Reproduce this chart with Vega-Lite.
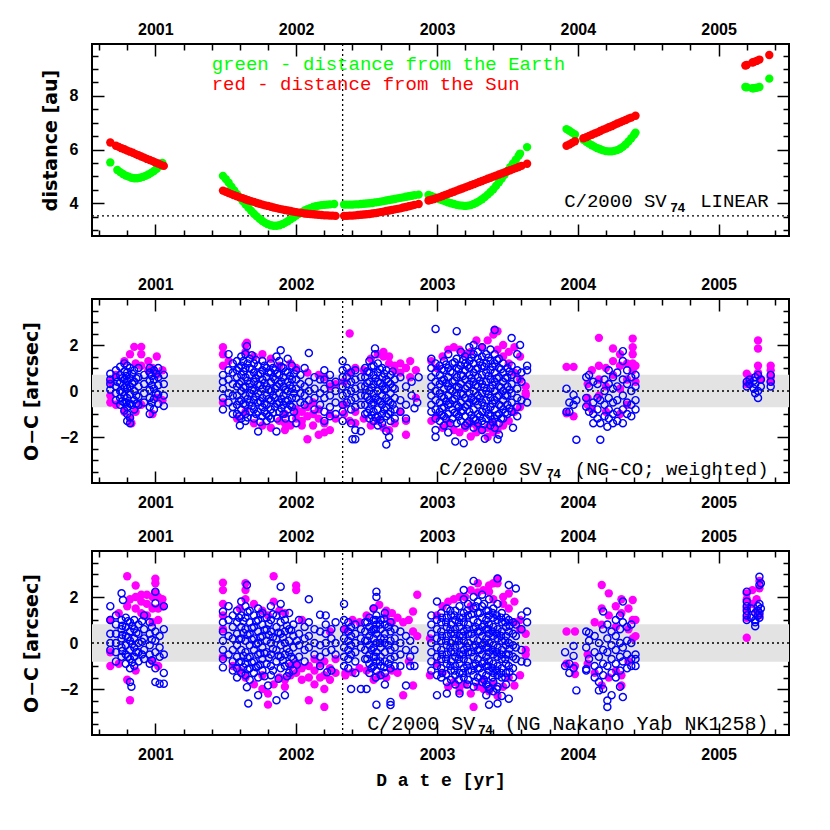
{
"$schema":"https://vega.github.io/schema/vega-lite/v6.json",
"background":"white",
"padding":{"left":21,"top":20,"right":10,"bottom":10},
"config":{"view":{"stroke":"black","strokeWidth":2},
"axis":{"labelFont":"Liberation Sans","labelFontWeight":"bold","labelFontSize":16,"labelColor":"black","titleFont":"DejaVu Sans","titleFontWeight":"bold","titleFontSize":19,"titleColor":"black","domain":false,"grid":false,"tickColor":"black","tickWidth":1.5,"zindex":1,"labelOverlap":false,"labelFlush":false}},
"datasets":{
"dg":[{"t":2000.68,"v":5.52},{"t":2000.73,"v":5.24},{"t":2000.75,"v":5.16},{"t":2000.77,"v":5.09},{"t":2000.79,"v":5.03},{"t":2000.81,"v":4.99},{"t":2000.83,"v":4.95},{"t":2000.85,"v":4.93},{"t":2000.87,"v":4.93},{"t":2000.89,"v":4.95},{"t":2000.91,"v":4.98},{"t":2000.93,"v":5.02},{"t":2000.95,"v":5.07},{"t":2000.97,"v":5.13},{"t":2000.99,"v":5.2},{"t":2001.01,"v":5.28},{"t":2001.03,"v":5.38},{"t":2001.05,"v":5.5},
{"t":2001.48,"v":5.02},{"t":2001.5,"v":4.9},{"t":2001.52,"v":4.77},{"t":2001.54,"v":4.62},{"t":2001.56,"v":4.48},{"t":2001.58,"v":4.34},{"t":2001.6,"v":4.21},{"t":2001.62,"v":4.08},{"t":2001.64,"v":3.96},{"t":2001.66,"v":3.84},{"t":2001.68,"v":3.72},{"t":2001.7,"v":3.61},{"t":2001.72,"v":3.51},{"t":2001.74,"v":3.42},{"t":2001.76,"v":3.34},{"t":2001.78,"v":3.27},{"t":2001.8,"v":3.22},{"t":2001.82,"v":3.18},{"t":2001.84,"v":3.16},{"t":2001.86,"v":3.16},{"t":2001.88,"v":3.18},{"t":2001.9,"v":3.22},{"t":2001.92,"v":3.27},{"t":2001.94,"v":3.33},{"t":2001.96,"v":3.4},{"t":2001.98,"v":3.47},{"t":2002,"v":3.54},{"t":2002.02,"v":3.61},{"t":2002.04,"v":3.67},{"t":2002.06,"v":3.73},{"t":2002.08,"v":3.78},{"t":2002.1,"v":3.82},{"t":2002.12,"v":3.86},{"t":2002.14,"v":3.89},{"t":2002.16,"v":3.91},{"t":2002.18,"v":3.93},{"t":2002.2,"v":3.94},{"t":2002.22,"v":3.95},{"t":2002.24,"v":3.96},{"t":2002.27,"v":3.97},
{"t":2002.34,"v":3.95},{"t":2002.36,"v":3.95},{"t":2002.38,"v":3.95},{"t":2002.4,"v":3.95},{"t":2002.42,"v":3.96},{"t":2002.44,"v":3.96},{"t":2002.46,"v":3.97},{"t":2002.48,"v":3.98},{"t":2002.5,"v":3.99},{"t":2002.52,"v":4},{"t":2002.54,"v":4.01},{"t":2002.56,"v":4.03},{"t":2002.58,"v":4.04},{"t":2002.6,"v":4.06},{"t":2002.62,"v":4.08},{"t":2002.64,"v":4.1},{"t":2002.66,"v":4.12},{"t":2002.68,"v":4.14},{"t":2002.7,"v":4.16},{"t":2002.72,"v":4.18},{"t":2002.74,"v":4.2},{"t":2002.76,"v":4.22},{"t":2002.78,"v":4.24},{"t":2002.8,"v":4.26},{"t":2002.82,"v":4.28},{"t":2002.84,"v":4.3},{"t":2002.87,"v":4.32},
{"t":2002.94,"v":4.31},{"t":2002.96,"v":4.27},{"t":2002.98,"v":4.23},{"t":2003,"v":4.19},{"t":2003.02,"v":4.15},{"t":2003.04,"v":4.11},{"t":2003.06,"v":4.07},{"t":2003.08,"v":4.03},{"t":2003.1,"v":4},{"t":2003.12,"v":3.97},{"t":2003.14,"v":3.94},{"t":2003.16,"v":3.92},{"t":2003.18,"v":3.91},{"t":2003.2,"v":3.9},{"t":2003.22,"v":3.91},{"t":2003.24,"v":3.93},{"t":2003.26,"v":3.97},{"t":2003.28,"v":4.02},{"t":2003.3,"v":4.08},{"t":2003.32,"v":4.15},{"t":2003.34,"v":4.23},{"t":2003.36,"v":4.32},{"t":2003.38,"v":4.42},{"t":2003.4,"v":4.52},{"t":2003.42,"v":4.65},{"t":2003.44,"v":4.78},{"t":2003.46,"v":4.92},{"t":2003.48,"v":5.06},{"t":2003.5,"v":5.2},{"t":2003.52,"v":5.34},{"t":2003.54,"v":5.48},{"t":2003.56,"v":5.62},{"t":2003.58,"v":5.77},{"t":2003.59,"v":5.85},{"t":2003.64,"v":6.09},
{"t":2003.92,"v":6.76},{"t":2003.94,"v":6.7},{"t":2003.96,"v":6.63},{"t":2003.98,"v":6.56},{"t":2004.04,"v":6.36},{"t":2004.06,"v":6.29},{"t":2004.08,"v":6.22},{"t":2004.1,"v":6.16},{"t":2004.12,"v":6.1},{"t":2004.14,"v":6.05},{"t":2004.16,"v":6.01},{"t":2004.18,"v":5.97},{"t":2004.2,"v":5.94},{"t":2004.22,"v":5.93},{"t":2004.24,"v":5.93},{"t":2004.26,"v":5.95},{"t":2004.28,"v":5.98},{"t":2004.3,"v":6.03},{"t":2004.32,"v":6.1},{"t":2004.34,"v":6.19},{"t":2004.36,"v":6.3},{"t":2004.38,"v":6.42},{"t":2004.4,"v":6.55},{"t":2004.41,"v":6.63},
{"t":2005.19,"v":8.33},{"t":2005.2,"v":8.32},{"t":2005.24,"v":8.28},{"t":2005.25,"v":8.28},{"t":2005.27,"v":8.3},{"t":2005.29,"v":8.33},{"t":2005.36,"v":8.64}],
"dr":[{"t":2000.68,"v":6.26},{"t":2000.72,"v":6.14},{"t":2000.74,"v":6.1},{"t":2000.76,"v":6.05},{"t":2000.78,"v":6.01},{"t":2000.8,"v":5.96},{"t":2000.82,"v":5.92},{"t":2000.84,"v":5.88},{"t":2000.86,"v":5.83},{"t":2000.88,"v":5.79},{"t":2000.9,"v":5.74},{"t":2000.92,"v":5.7},{"t":2000.94,"v":5.65},{"t":2000.96,"v":5.61},{"t":2000.98,"v":5.57},{"t":2001,"v":5.52},{"t":2001.02,"v":5.48},{"t":2001.04,"v":5.43},{"t":2001.06,"v":5.39},
{"t":2001.48,"v":4.47},{"t":2001.5,"v":4.43},{"t":2001.52,"v":4.38},{"t":2001.54,"v":4.34},{"t":2001.56,"v":4.3},{"t":2001.58,"v":4.26},{"t":2001.6,"v":4.22},{"t":2001.62,"v":4.19},{"t":2001.64,"v":4.15},{"t":2001.66,"v":4.11},{"t":2001.68,"v":4.08},{"t":2001.7,"v":4.05},{"t":2001.72,"v":4.01},{"t":2001.74,"v":3.98},{"t":2001.76,"v":3.95},{"t":2001.78,"v":3.92},{"t":2001.8,"v":3.9},{"t":2001.82,"v":3.87},{"t":2001.84,"v":3.84},{"t":2001.86,"v":3.82},{"t":2001.88,"v":3.79},{"t":2001.9,"v":3.77},{"t":2001.92,"v":3.75},{"t":2001.94,"v":3.73},{"t":2001.96,"v":3.71},{"t":2001.98,"v":3.69},{"t":2002,"v":3.67},{"t":2002.02,"v":3.65},{"t":2002.04,"v":3.64},{"t":2002.06,"v":3.62},{"t":2002.08,"v":3.61},{"t":2002.1,"v":3.6},{"t":2002.12,"v":3.59},{"t":2002.14,"v":3.58},{"t":2002.16,"v":3.57},{"t":2002.18,"v":3.56},{"t":2002.2,"v":3.55},{"t":2002.22,"v":3.55},{"t":2002.24,"v":3.54},{"t":2002.26,"v":3.54},{"t":2002.28,"v":3.53},
{"t":2002.34,"v":3.53},{"t":2002.36,"v":3.53},{"t":2002.38,"v":3.54},{"t":2002.4,"v":3.54},{"t":2002.42,"v":3.55},{"t":2002.44,"v":3.56},{"t":2002.46,"v":3.57},{"t":2002.48,"v":3.58},{"t":2002.5,"v":3.59},{"t":2002.52,"v":3.6},{"t":2002.54,"v":3.62},{"t":2002.56,"v":3.63},{"t":2002.58,"v":3.65},{"t":2002.6,"v":3.67},{"t":2002.62,"v":3.69},{"t":2002.64,"v":3.71},{"t":2002.66,"v":3.73},{"t":2002.68,"v":3.75},{"t":2002.7,"v":3.77},{"t":2002.72,"v":3.79},{"t":2002.74,"v":3.81},{"t":2002.76,"v":3.84},{"t":2002.78,"v":3.86},{"t":2002.8,"v":3.89},{"t":2002.82,"v":3.91},{"t":2002.84,"v":3.94},{"t":2002.87,"v":3.97},
{"t":2002.94,"v":4.1},{"t":2002.96,"v":4.13},{"t":2002.98,"v":4.16},{"t":2003,"v":4.2},{"t":2003.02,"v":4.23},{"t":2003.04,"v":4.27},{"t":2003.06,"v":4.31},{"t":2003.08,"v":4.35},{"t":2003.1,"v":4.39},{"t":2003.12,"v":4.43},{"t":2003.14,"v":4.47},{"t":2003.16,"v":4.51},{"t":2003.18,"v":4.55},{"t":2003.2,"v":4.59},{"t":2003.22,"v":4.63},{"t":2003.24,"v":4.67},{"t":2003.26,"v":4.71},{"t":2003.28,"v":4.75},{"t":2003.3,"v":4.79},{"t":2003.32,"v":4.83},{"t":2003.34,"v":4.87},{"t":2003.36,"v":4.91},{"t":2003.38,"v":4.95},{"t":2003.4,"v":4.99},{"t":2003.42,"v":5.03},{"t":2003.44,"v":5.07},{"t":2003.46,"v":5.11},{"t":2003.48,"v":5.15},{"t":2003.5,"v":5.19},{"t":2003.52,"v":5.23},{"t":2003.54,"v":5.27},{"t":2003.56,"v":5.31},{"t":2003.58,"v":5.35},{"t":2003.6,"v":5.39},{"t":2003.64,"v":5.47},
{"t":2003.92,"v":6.14},{"t":2003.94,"v":6.19},{"t":2003.96,"v":6.25},{"t":2003.98,"v":6.31},{"t":2004.04,"v":6.42},{"t":2004.06,"v":6.46},{"t":2004.08,"v":6.51},{"t":2004.1,"v":6.55},{"t":2004.12,"v":6.6},{"t":2004.14,"v":6.64},{"t":2004.16,"v":6.69},{"t":2004.18,"v":6.74},{"t":2004.2,"v":6.78},{"t":2004.22,"v":6.83},{"t":2004.24,"v":6.87},{"t":2004.26,"v":6.92},{"t":2004.28,"v":6.97},{"t":2004.3,"v":7.01},{"t":2004.32,"v":7.06},{"t":2004.34,"v":7.1},{"t":2004.36,"v":7.15},{"t":2004.38,"v":7.19},{"t":2004.41,"v":7.26},
{"t":2005.19,"v":9.13},{"t":2005.2,"v":9.15},{"t":2005.24,"v":9.24},{"t":2005.25,"v":9.26},{"t":2005.27,"v":9.3},{"t":2005.29,"v":9.35},{"t":2005.36,"v":9.52}],
"m1":[{"t":2000.68,"v":-0.2},{"t":2000.68,"v":-0.5},{"t":2000.68,"v":0.4},{"t":2000.72,"v":-0.6},{"t":2000.72,"v":0.7},{"t":2000.78,"v":1.3},{"t":2000.78,"v":-0.9},{"t":2000.82,"v":1.6},{"t":2000.82,"v":-1.2},{"t":2000.83,"v":-1.4},{"t":2000.85,"v":1.92},{"t":2000.86,"v":1.2},{"t":2000.86,"v":-0.9},{"t":2000.9,"v":1.92},{"t":2000.9,"v":1.6},{"t":2000.9,"v":1.1},{"t":2000.9,"v":-0.6},{"t":2000.95,"v":1.3},{"t":2000.95,"v":0.9},{"t":2000.98,"v":1},{"t":2000.98,"v":-1},{"t":2001.01,"v":1.5},{"t":2001.01,"v":0.7},{"t":2001.01,"v":-0.3},{"t":2001.05,"v":0.9},{"t":2001.05,"v":-0.4},
{"t":2001.48,"v":1.9},{"t":2001.48,"v":1.6},{"t":2001.48,"v":1.1},{"t":2001.48,"v":-0.5},{"t":2001.52,"v":1.3},{"t":2001.58,"v":-1.2},{"t":2001.64,"v":2},{"t":2001.65,"v":2.1},{"t":2001.64,"v":1.7},{"t":2001.64,"v":-0.9},{"t":2001.7,"v":1.5},{"t":2001.7,"v":-1.4},{"t":2001.76,"v":1.6},{"t":2001.76,"v":-1.5},{"t":2001.82,"v":1.4},{"t":2001.82,"v":-1.6},{"t":2001.88,"v":-1.3},{"t":2001.88,"v":1.1},{"t":2001.92,"v":-1.7},{"t":2001.92,"v":-1.4},{"t":2001.92,"v":-1},{"t":2001.96,"v":-1.5},{"t":2001.96,"v":1.2},{"t":2002,"v":-1},{"t":2002,"v":-1.2},{"t":2002,"v":-0.8},{"t":2002,"v":1},{"t":2002.04,"v":-1.3},{"t":2002.04,"v":-0.9},{"t":2002.04,"v":-1.5},{"t":2002.08,"v":-2.1},{"t":2002.08,"v":-1.1},{"t":2002.08,"v":-0.7},{"t":2002.08,"v":0.8},{"t":2002.12,"v":-1.5},{"t":2002.12,"v":-1},{"t":2002.12,"v":-0.5},{"t":2002.16,"v":-1.9},{"t":2002.16,"v":-1.2},{"t":2002.16,"v":-0.8},{"t":2002.16,"v":0.7},{"t":2002.2,"v":-1.8},{"t":2002.2,"v":-1.4},{"t":2002.2,"v":0.6},{"t":2002.24,"v":-1.7},{"t":2002.24,"v":-1},{"t":2002.24,"v":0.2},{"t":2002.28,"v":-1.2},{"t":2002.28,"v":0.3},
{"t":2002.34,"v":-1},{"t":2002.34,"v":0.4},{"t":2002.34,"v":-0.6},{"t":2002.38,"v":2.5},{"t":2002.38,"v":-1.3},{"t":2002.38,"v":0.8},{"t":2002.42,"v":-0.9},{"t":2002.42,"v":-1.4},{"t":2002.42,"v":1},{"t":2002.48,"v":-1.2},{"t":2002.48,"v":0.9},{"t":2002.53,"v":1.4},{"t":2002.53,"v":-1.5},{"t":2002.58,"v":1.6},{"t":2002.58,"v":-1.3},{"t":2002.62,"v":1.7},{"t":2002.62,"v":1.5},{"t":2002.62,"v":-1.6},{"t":2002.66,"v":1.5},{"t":2002.66,"v":-1.7},{"t":2002.66,"v":1.2},{"t":2002.7,"v":0.9},{"t":2002.7,"v":1.1},{"t":2002.7,"v":-1.4},{"t":2002.74,"v":1.2},{"t":2002.74,"v":-0.9},{"t":2002.74,"v":0.8},{"t":2002.78,"v":-1.9},{"t":2002.78,"v":1},{"t":2002.78,"v":-1.3},{"t":2002.81,"v":1.3},{"t":2002.81,"v":0.6},{"t":2002.85,"v":0.9},{"t":2002.85,"v":-0.3},
{"t":2002.96,"v":-1.3},{"t":2002.96,"v":1.3},{"t":2003,"v":1},{"t":2003,"v":-1.1},{"t":2003.04,"v":1.5},{"t":2003.04,"v":-1.6},{"t":2003.08,"v":1.8},{"t":2003.08,"v":-1.4},{"t":2003.12,"v":-1.7},{"t":2003.12,"v":1.9},{"t":2003.16,"v":1.8},{"t":2003.16,"v":-1.8},{"t":2003.2,"v":-1.6},{"t":2003.2,"v":1.6},{"t":2003.24,"v":-1.98},{"t":2003.24,"v":1.7},{"t":2003.24,"v":-1.4},{"t":2003.28,"v":2.2},{"t":2003.28,"v":-1.5},{"t":2003.28,"v":-1.8},{"t":2003.32,"v":1.9},{"t":2003.32,"v":-1.7},{"t":2003.36,"v":2.2},{"t":2003.36,"v":-1.6},{"t":2003.36,"v":-2},{"t":2003.4,"v":2.45},{"t":2003.41,"v":2.67},{"t":2003.4,"v":-1.4},{"t":2003.4,"v":-1.8},{"t":2003.43,"v":2.6},{"t":2003.43,"v":-1.7},{"t":2003.43,"v":1.8},{"t":2003.47,"v":2},{"t":2003.47,"v":-1.5},{"t":2003.47,"v":1.5},{"t":2003.51,"v":1.7},{"t":2003.51,"v":-1.3},{"t":2003.51,"v":1.2},{"t":2003.55,"v":1.9},{"t":2003.55,"v":0.8},{"t":2003.55,"v":-0.9},{"t":2003.59,"v":1.5},{"t":2003.59,"v":0.5},{"t":2003.59,"v":-0.7},{"t":2003.63,"v":0.2},{"t":2003.63,"v":-0.1},{"t":2003.63,"v":-0.2},
{"t":2003.92,"v":1.05},{"t":2003.92,"v":-0.97},{"t":2003.97,"v":1.05},{"t":2003.97,"v":-1.1},{"t":2004.07,"v":0.3},{"t":2004.07,"v":-0.3},{"t":2004.07,"v":-0.6},{"t":2004.1,"v":0.9},{"t":2004.1,"v":-0.8},{"t":2004.15,"v":2.31},{"t":2004.15,"v":1.1},{"t":2004.15,"v":0.5},{"t":2004.15,"v":-0.2},{"t":2004.2,"v":1},{"t":2004.2,"v":0.2},{"t":2004.2,"v":-0.9},{"t":2004.25,"v":1.85},{"t":2004.25,"v":1.3},{"t":2004.25,"v":0.7},{"t":2004.3,"v":1.6},{"t":2004.3,"v":1.1},{"t":2004.3,"v":0.1},{"t":2004.3,"v":-1},{"t":2004.35,"v":1.2},{"t":2004.35,"v":0.5},{"t":2004.35,"v":-0.6},{"t":2004.39,"v":2.28},{"t":2004.39,"v":1.9},{"t":2004.39,"v":1.6},{"t":2004.39,"v":1.2},{"t":2004.39,"v":0.9},{"t":2004.41,"v":1.1},{"t":2004.41,"v":0.4},
{"t":2005.2,"v":0.3},{"t":2005.2,"v":0.75},{"t":2005.22,"v":0.6},{"t":2005.28,"v":2.2},{"t":2005.28,"v":1.85},{"t":2005.28,"v":1.1},{"t":2005.28,"v":0.8},{"t":2005.3,"v":0.5},{"t":2005.37,"v":1.1},{"t":2005.37,"v":0.9},{"t":2005.37,"v":0.6},{"t":2005.37,"v":0.4}],
"b1":[{"t":2000.68,"v":0.75},{"t":2000.68,"v":0.5},{"t":2000.68,"v":0.05},{"t":2000.68,"v":0.3},{"t":2000.72,"v":0.9},{"t":2000.72,"v":0.6},{"t":2000.72,"v":0.2},{"t":2000.72,"v":-0.1},{"t":2000.72,"v":-0.4},{"t":2000.73,"v":0.4},{"t":2000.75,"v":1.05},{"t":2000.75,"v":0.7},{"t":2000.75,"v":0.35},{"t":2000.75,"v":0},{"t":2000.75,"v":-0.3},{"t":2000.75,"v":-0.6},{"t":2000.78,"v":1.2},{"t":2000.78,"v":0.85},{"t":2000.78,"v":0.5},{"t":2000.78,"v":0.15},{"t":2000.78,"v":-0.2},{"t":2000.78,"v":-0.5},{"t":2000.78,"v":-0.85},{"t":2000.8,"v":1.1},{"t":2000.8,"v":0.8},{"t":2000.8,"v":0.45},{"t":2000.8,"v":0.1},{"t":2000.8,"v":-0.3},{"t":2000.8,"v":-0.7},{"t":2000.8,"v":-1},{"t":2000.8,"v":-1.3},{"t":2000.82,"v":1},{"t":2000.82,"v":0.55},{"t":2000.82,"v":0.2},{"t":2000.82,"v":-0.15},{"t":2000.82,"v":-0.55},{"t":2000.82,"v":-1.15},{"t":2000.82,"v":-1.4},{"t":2000.85,"v":0.9},{"t":2000.85,"v":0.4},{"t":2000.85,"v":0},{"t":2000.85,"v":-0.4},{"t":2000.85,"v":-0.8},{"t":2000.88,"v":1},{"t":2000.88,"v":0.6},{"t":2000.88,"v":0.2},{"t":2000.88,"v":-0.25},{"t":2000.88,"v":-0.6},{"t":2000.92,"v":0.7},{"t":2000.92,"v":0.3},{"t":2000.92,"v":-0.1},{"t":2000.92,"v":-0.5},{"t":2000.96,"v":1},{"t":2000.96,"v":0.8},{"t":2000.96,"v":0.45},{"t":2000.96,"v":0.05},{"t":2000.96,"v":-0.3},{"t":2000.96,"v":-0.7},{"t":2000.96,"v":-1},{"t":2000.99,"v":0.9},{"t":2000.99,"v":0.5},{"t":2000.99,"v":0.1},{"t":2000.99,"v":-0.35},{"t":2000.99,"v":-0.8},{"t":2001.02,"v":1},{"t":2001.02,"v":0.6},{"t":2001.02,"v":0.25},{"t":2001.02,"v":-0.15},{"t":2001.02,"v":-0.55},{"t":2001.06,"v":0.7},{"t":2001.06,"v":0.3},{"t":2001.06,"v":-0.2},{"t":2001.06,"v":-0.65},
{"t":2000.765,"v":0.55},{"t":2000.765,"v":-0.05},{"t":2000.765,"v":-0.45},{"t":2000.795,"v":0.65},{"t":2000.795,"v":0.25},{"t":2000.795,"v":-0.5},{"t":2000.835,"v":0.75},{"t":2000.835,"v":0.35},{"t":2000.835,"v":-0.6},{"t":2000.865,"v":0.55},{"t":2000.865,"v":-0.2},{"t":2000.865,"v":-0.55},{"t":2000.975,"v":0.65},{"t":2000.975,"v":0.25},{"t":2000.975,"v":-0.5},{"t":2001.005,"v":0.75},{"t":2001.005,"v":-0.1},
{"t":2001.48,"v":0.7},{"t":2001.48,"v":0.4},{"t":2001.48,"v":0.1},{"t":2001.48,"v":-0.3},{"t":2001.48,"v":-0.8},{"t":2001.52,"v":1.6},{"t":2001.52,"v":0.9},{"t":2001.52,"v":0.5},{"t":2001.52,"v":-0.1},{"t":2001.52,"v":-0.5},{"t":2001.55,"v":1.2},{"t":2001.55,"v":0.8},{"t":2001.55,"v":0.3},{"t":2001.55,"v":-0.2},{"t":2001.55,"v":-0.7},{"t":2001.55,"v":-1},{"t":2001.58,"v":1.3},{"t":2001.58,"v":0.9},{"t":2001.58,"v":0.6},{"t":2001.58,"v":0.2},{"t":2001.58,"v":-0.2},{"t":2001.58,"v":-0.6},{"t":2001.58,"v":-1},{"t":2001.6,"v":-1.5},{"t":2001.61,"v":1.5},{"t":2001.61,"v":1.1},{"t":2001.61,"v":0.7},{"t":2001.61,"v":0.4},{"t":2001.61,"v":0},{"t":2001.61,"v":-0.4},{"t":2001.61,"v":-0.8},{"t":2001.61,"v":-1.2},{"t":2001.65,"v":1.95},{"t":2001.64,"v":1.6},{"t":2001.64,"v":1},{"t":2001.64,"v":0.6},{"t":2001.64,"v":0.2},{"t":2001.64,"v":-0.2},{"t":2001.64,"v":-0.6},{"t":2001.64,"v":-1},{"t":2001.64,"v":-1.3},{"t":2001.67,"v":1.4},{"t":2001.67,"v":1},{"t":2001.67,"v":0.7},{"t":2001.67,"v":0.3},{"t":2001.67,"v":-0.1},{"t":2001.67,"v":-0.5},{"t":2001.67,"v":-0.9},{"t":2001.7,"v":1.2},{"t":2001.7,"v":0.8},{"t":2001.7,"v":0.4},{"t":2001.7,"v":0},{"t":2001.7,"v":-0.4},{"t":2001.7,"v":-0.8},{"t":2001.7,"v":-1.2},{"t":2001.73,"v":-1.76},{"t":2001.73,"v":1.1},{"t":2001.73,"v":0.7},{"t":2001.73,"v":0.3},{"t":2001.73,"v":-0.1},{"t":2001.73,"v":-0.5},{"t":2001.73,"v":-0.9},{"t":2001.76,"v":1.3},{"t":2001.76,"v":0.9},{"t":2001.76,"v":0.5},{"t":2001.76,"v":0.1},{"t":2001.76,"v":-0.3},{"t":2001.76,"v":-0.7},{"t":2001.76,"v":-1.1},{"t":2001.79,"v":1},{"t":2001.79,"v":0.6},{"t":2001.79,"v":0.2},{"t":2001.79,"v":-0.2},{"t":2001.79,"v":-0.6},{"t":2001.79,"v":-1},{"t":2001.79,"v":-1.3},{"t":2001.82,"v":1.2},{"t":2001.82,"v":0.8},{"t":2001.82,"v":0.4},{"t":2001.82,"v":0},{"t":2001.82,"v":-0.4},{"t":2001.82,"v":-0.8},{"t":2001.82,"v":-1.2},{"t":2001.86,"v":1.5},{"t":2001.85,"v":0.9},{"t":2001.85,"v":0.5},{"t":2001.85,"v":0.1},{"t":2001.85,"v":-0.3},{"t":2001.85,"v":-0.7},{"t":2001.86,"v":-1.76},{"t":2001.89,"v":1.77},{"t":2001.88,"v":1.3},{"t":2001.88,"v":0.7},{"t":2001.88,"v":0.3},{"t":2001.88,"v":-0.1},{"t":2001.88,"v":-0.5},{"t":2001.88,"v":-0.9},{"t":2001.91,"v":1},{"t":2001.91,"v":0.6},{"t":2001.91,"v":0.2},{"t":2001.91,"v":-0.2},{"t":2001.91,"v":-0.6},{"t":2001.91,"v":-1},{"t":2001.94,"v":1.4},{"t":2001.94,"v":0.8},{"t":2001.94,"v":0.4},{"t":2001.94,"v":0},{"t":2001.94,"v":-0.4},{"t":2001.94,"v":-0.8},{"t":2001.97,"v":1.1},{"t":2001.97,"v":0.5},{"t":2001.97,"v":0.1},{"t":2001.97,"v":-0.3},{"t":2001.97,"v":-0.7},{"t":2001.97,"v":-1.2},{"t":2002,"v":0.9},{"t":2002,"v":0.5},{"t":2002,"v":0.1},{"t":2002,"v":-0.3},{"t":2002,"v":-1.4},{"t":2002.03,"v":0.7},{"t":2002.03,"v":0.3},{"t":2002.03,"v":-0.1},{"t":2002.03,"v":-0.5},{"t":2002.06,"v":1},{"t":2002.06,"v":0.2},{"t":2002.06,"v":-0.2},{"t":2002.06,"v":-0.6},{"t":2002.09,"v":1.65},{"t":2002.09,"v":0.4},{"t":2002.09,"v":0},{"t":2002.09,"v":-0.4},{"t":2002.13,"v":0.6},{"t":2002.13,"v":0.1},{"t":2002.13,"v":-0.3},{"t":2002.13,"v":-0.8},{"t":2002.17,"v":0.5},{"t":2002.17,"v":-0.1},{"t":2002.17,"v":-0.6},{"t":2002.2,"v":0.9},{"t":2002.2,"v":0.5},{"t":2002.2,"v":0.1},{"t":2002.2,"v":-0.3},{"t":2002.2,"v":-0.9},{"t":2002.2,"v":-1.3},{"t":2002.24,"v":0.7},{"t":2002.24,"v":0.3},{"t":2002.24,"v":-0.2},{"t":2002.24,"v":-0.7},{"t":2002.24,"v":-1.1},{"t":2002.28,"v":0.4},{"t":2002.28,"v":0},{"t":2002.28,"v":-0.5},{"t":2002.28,"v":-1},
{"t":2001.595,"v":1},{"t":2001.595,"v":0.3},{"t":2001.595,"v":-0.45},{"t":2001.595,"v":-1.1},{"t":2001.625,"v":0.85},{"t":2001.625,"v":0.15},{"t":2001.625,"v":-0.55},{"t":2001.625,"v":1.3},{"t":2001.655,"v":1.2},{"t":2001.655,"v":0.45},{"t":2001.655,"v":-0.35},{"t":2001.655,"v":-1.15},{"t":2001.685,"v":0.95},{"t":2001.685,"v":0.05},{"t":2001.685,"v":-0.65},{"t":2001.685,"v":1.55},{"t":2001.715,"v":1.35},{"t":2001.715,"v":0.55},{"t":2001.715,"v":-0.25},{"t":2001.715,"v":-1},{"t":2001.745,"v":0.75},{"t":2001.745,"v":0.25},{"t":2001.745,"v":-0.45},{"t":2001.745,"v":-1.35},{"t":2001.775,"v":1.1},{"t":2001.775,"v":0.35},{"t":2001.775,"v":-0.55},{"t":2001.775,"v":-0.9},{"t":2001.805,"v":0.8},{"t":2001.805,"v":0.05},{"t":2001.805,"v":-0.35},{"t":2001.805,"v":-1.1},{"t":2001.835,"v":1},{"t":2001.835,"v":0.6},{"t":2001.835,"v":-0.2},{"t":2001.835,"v":-0.95},{"t":2001.865,"v":0.75},{"t":2001.865,"v":0.2},{"t":2001.865,"v":-0.55},{"t":2001.865,"v":-1.2},{"t":2001.895,"v":1.05},{"t":2001.895,"v":0.4},{"t":2001.895,"v":-0.35},{"t":2001.895,"v":-0.75},{"t":2001.925,"v":0.85},{"t":2001.925,"v":0.05},{"t":2001.925,"v":-0.45},{"t":2001.925,"v":-1.2},{"t":2001.955,"v":0.65},{"t":2001.955,"v":0.25},{"t":2001.955,"v":-0.6},{"t":2001.985,"v":0.75},{"t":2001.985,"v":-0.1},{"t":2001.985,"v":-0.9},
{"t":2002.33,"v":1.3},{"t":2002.33,"v":0.9},{"t":2002.33,"v":0.6},{"t":2002.33,"v":0.2},{"t":2002.33,"v":-0.2},{"t":2002.33,"v":-0.6},{"t":2002.33,"v":-0.9},{"t":2002.33,"v":-1.3},{"t":2002.36,"v":1},{"t":2002.36,"v":0.6},{"t":2002.36,"v":0.3},{"t":2002.36,"v":-0.1},{"t":2002.36,"v":-0.5},{"t":2002.39,"v":0.8},{"t":2002.39,"v":0.4},{"t":2002.39,"v":0},{"t":2002.39,"v":-0.4},{"t":2002.39,"v":-0.8},{"t":2002.39,"v":-1.4},{"t":2002.4,"v":-2.1},{"t":2002.42,"v":0.9},{"t":2002.42,"v":0.5},{"t":2002.42,"v":0.1},{"t":2002.42,"v":-0.3},{"t":2002.42,"v":-0.7},{"t":2002.42,"v":-1.7},{"t":2002.42,"v":-2.1},{"t":2002.46,"v":0.6},{"t":2002.46,"v":0.2},{"t":2002.46,"v":-0.2},{"t":2002.46,"v":-0.6},{"t":2002.46,"v":-1.75},{"t":2002.49,"v":1},{"t":2002.49,"v":0.6},{"t":2002.49,"v":0.2},{"t":2002.49,"v":-0.2},{"t":2002.49,"v":-0.6},{"t":2002.49,"v":-1},{"t":2002.52,"v":1.3},{"t":2002.52,"v":0.8},{"t":2002.52,"v":0.4},{"t":2002.52,"v":0},{"t":2002.52,"v":-0.4},{"t":2002.52,"v":-0.8},{"t":2002.52,"v":-1.2},{"t":2002.56,"v":1.85},{"t":2002.56,"v":1.6},{"t":2002.55,"v":1.1},{"t":2002.55,"v":0.7},{"t":2002.55,"v":0.3},{"t":2002.55,"v":-0.1},{"t":2002.55,"v":-0.5},{"t":2002.55,"v":-0.9},{"t":2002.55,"v":-1.3},{"t":2002.58,"v":1.2},{"t":2002.58,"v":0.8},{"t":2002.58,"v":0.4},{"t":2002.58,"v":0},{"t":2002.58,"v":-0.4},{"t":2002.58,"v":-0.8},{"t":2002.58,"v":-1.1},{"t":2002.58,"v":-1.5},{"t":2002.61,"v":1},{"t":2002.61,"v":0.6},{"t":2002.61,"v":0.2},{"t":2002.61,"v":-0.2},{"t":2002.61,"v":-0.6},{"t":2002.61,"v":-1},{"t":2002.61,"v":-1.4},{"t":2002.64,"v":0.9},{"t":2002.64,"v":0.5},{"t":2002.64,"v":0.1},{"t":2002.64,"v":-0.3},{"t":2002.64,"v":-0.7},{"t":2002.64,"v":-1.1},{"t":2002.64,"v":-1.75},{"t":2002.64,"v":-2.33},{"t":2002.67,"v":0.7},{"t":2002.67,"v":0.3},{"t":2002.67,"v":-0.1},{"t":2002.67,"v":-0.5},{"t":2002.67,"v":-0.9},{"t":2002.67,"v":-1.3},{"t":2002.66,"v":-2},{"t":2002.7,"v":0.5},{"t":2002.7,"v":0.1},{"t":2002.7,"v":-0.3},{"t":2002.7,"v":-0.8},{"t":2002.7,"v":-1.2},{"t":2002.74,"v":0.6},{"t":2002.74,"v":-0.4},{"t":2002.74,"v":-0.9},{"t":2002.78,"v":0.2},{"t":2002.78,"v":-0.6},{"t":2002.78,"v":-1.2},{"t":2002.82,"v":0.4},{"t":2002.82,"v":-0.2},{"t":2002.84,"v":-0.75},{"t":2002.87,"v":0.6},{"t":2002.86,"v":-0.5},
{"t":2002.505,"v":0.85},{"t":2002.505,"v":0.35},{"t":2002.505,"v":-0.25},{"t":2002.505,"v":-0.95},{"t":2002.535,"v":1.05},{"t":2002.535,"v":0.15},{"t":2002.535,"v":-0.6},{"t":2002.535,"v":-1.05},{"t":2002.565,"v":0.55},{"t":2002.565,"v":-0.3},{"t":2002.565,"v":-1.15},{"t":2002.595,"v":0.95},{"t":2002.595,"v":0.35},{"t":2002.595,"v":-0.45},{"t":2002.595,"v":-1.25},{"t":2002.625,"v":0.75},{"t":2002.625,"v":0.05},{"t":2002.625,"v":-0.8},{"t":2002.655,"v":0.4},{"t":2002.655,"v":-0.45},{"t":2002.655,"v":-1},{"t":2002.685,"v":0.85},{"t":2002.685,"v":0.15},{"t":2002.685,"v":-0.6},
{"t":2002.96,"v":1.4},{"t":2002.96,"v":1},{"t":2002.96,"v":0.6},{"t":2002.96,"v":0.2},{"t":2002.96,"v":-0.2},{"t":2002.96,"v":-0.6},{"t":2002.96,"v":-0.9},{"t":2002.99,"v":2.7},{"t":2002.99,"v":1.2},{"t":2002.99,"v":0.8},{"t":2002.99,"v":0.4},{"t":2002.99,"v":0},{"t":2002.99,"v":-0.4},{"t":2002.99,"v":-0.8},{"t":2002.99,"v":-1.2},{"t":2002.99,"v":-1.7},{"t":2002.99,"v":-2},{"t":2003.02,"v":1.1},{"t":2003.02,"v":0.7},{"t":2003.02,"v":0.3},{"t":2003.02,"v":-0.1},{"t":2003.02,"v":-0.5},{"t":2003.02,"v":-0.9},{"t":2003.02,"v":-1.3},{"t":2003.05,"v":1.3},{"t":2003.05,"v":0.9},{"t":2003.05,"v":0.5},{"t":2003.05,"v":0.1},{"t":2003.05,"v":-0.3},{"t":2003.05,"v":-0.7},{"t":2003.05,"v":-1.1},{"t":2003.05,"v":-1.5},{"t":2003.08,"v":1.6},{"t":2003.08,"v":1},{"t":2003.08,"v":0.6},{"t":2003.08,"v":0.2},{"t":2003.08,"v":-0.2},{"t":2003.08,"v":-0.6},{"t":2003.08,"v":-1},{"t":2003.08,"v":-1.8},{"t":2003.11,"v":1.2},{"t":2003.11,"v":0.8},{"t":2003.11,"v":0.4},{"t":2003.11,"v":0},{"t":2003.11,"v":-0.4},{"t":2003.11,"v":-0.8},{"t":2003.11,"v":-1.2},{"t":2003.14,"v":2.6},{"t":2003.14,"v":1.4},{"t":2003.14,"v":1},{"t":2003.14,"v":0.6},{"t":2003.14,"v":0.2},{"t":2003.14,"v":-0.2},{"t":2003.14,"v":-0.6},{"t":2003.14,"v":-1},{"t":2003.14,"v":-1.4},{"t":2003.13,"v":-2.2},{"t":2003.17,"v":1.7},{"t":2003.17,"v":1.1},{"t":2003.17,"v":0.7},{"t":2003.17,"v":0.3},{"t":2003.17,"v":-0.1},{"t":2003.17,"v":-0.5},{"t":2003.17,"v":-0.9},{"t":2003.17,"v":-1.3},{"t":2003.2,"v":1.5},{"t":2003.2,"v":1.2},{"t":2003.2,"v":0.9},{"t":2003.2,"v":0.5},{"t":2003.2,"v":0.1},{"t":2003.2,"v":-0.3},{"t":2003.2,"v":-0.7},{"t":2003.2,"v":-1.1},{"t":2003.2,"v":-1.5},{"t":2003.19,"v":-2.27},{"t":2003.23,"v":1.9},{"t":2003.23,"v":1.3},{"t":2003.23,"v":1},{"t":2003.23,"v":0.7},{"t":2003.23,"v":0.3},{"t":2003.23,"v":-0.1},{"t":2003.23,"v":-0.5},{"t":2003.23,"v":-0.9},{"t":2003.23,"v":-1.3},{"t":2003.26,"v":2},{"t":2003.26,"v":1.6},{"t":2003.26,"v":1.2},{"t":2003.26,"v":0.8},{"t":2003.26,"v":0.4},{"t":2003.26,"v":0},{"t":2003.26,"v":-0.4},{"t":2003.26,"v":-0.8},{"t":2003.26,"v":-1.2},{"t":2003.26,"v":-1.6},{"t":2003.29,"v":1.7},{"t":2003.29,"v":1.4},{"t":2003.29,"v":1},{"t":2003.29,"v":0.6},{"t":2003.29,"v":0.2},{"t":2003.29,"v":-0.2},{"t":2003.29,"v":-0.6},{"t":2003.29,"v":-1},{"t":2003.29,"v":-1.4},{"t":2003.32,"v":1.9},{"t":2003.32,"v":1.5},{"t":2003.32,"v":1.1},{"t":2003.32,"v":0.7},{"t":2003.32,"v":0.3},{"t":2003.32,"v":-0.1},{"t":2003.32,"v":-0.5},{"t":2003.32,"v":-0.9},{"t":2003.32,"v":-1.3},{"t":2003.32,"v":-1.7},{"t":2003.35,"v":1.6},{"t":2003.35,"v":1.2},{"t":2003.35,"v":0.8},{"t":2003.35,"v":0.4},{"t":2003.35,"v":0},{"t":2003.35,"v":-0.4},{"t":2003.35,"v":-0.8},{"t":2003.35,"v":-1.2},{"t":2003.34,"v":-2.08},{"t":2003.38,"v":1.8},{"t":2003.38,"v":1.3},{"t":2003.38,"v":0.9},{"t":2003.38,"v":0.5},{"t":2003.38,"v":0.1},{"t":2003.38,"v":-0.3},{"t":2003.38,"v":-0.7},{"t":2003.38,"v":-1.1},{"t":2003.38,"v":-1.5},{"t":2003.41,"v":2.65},{"t":2003.41,"v":1.6},{"t":2003.41,"v":1.2},{"t":2003.41,"v":0.8},{"t":2003.41,"v":0.4},{"t":2003.41,"v":0},{"t":2003.41,"v":-0.4},{"t":2003.41,"v":-0.8},{"t":2003.41,"v":-1.2},{"t":2003.41,"v":-1.6},{"t":2003.43,"v":-2.1},{"t":2003.44,"v":1.4},{"t":2003.44,"v":1},{"t":2003.44,"v":0.6},{"t":2003.44,"v":0.2},{"t":2003.44,"v":-0.2},{"t":2003.44,"v":-0.6},{"t":2003.44,"v":-1},{"t":2003.44,"v":-1.4},{"t":2003.44,"v":-1.9},{"t":2003.47,"v":1.2},{"t":2003.47,"v":0.8},{"t":2003.47,"v":0.4},{"t":2003.47,"v":0},{"t":2003.47,"v":-0.4},{"t":2003.47,"v":-0.8},{"t":2003.47,"v":-1.2},{"t":2003.5,"v":1},{"t":2003.5,"v":0.6},{"t":2003.5,"v":0.2},{"t":2003.5,"v":-0.2},{"t":2003.5,"v":-0.6},{"t":2003.5,"v":-1},{"t":2003.54,"v":-1.6},{"t":2003.53,"v":2.3},{"t":2003.53,"v":1.1},{"t":2003.53,"v":0.7},{"t":2003.53,"v":0.3},{"t":2003.53,"v":-0.1},{"t":2003.53,"v":-0.5},{"t":2003.53,"v":-0.9},{"t":2003.57,"v":1.6},{"t":2003.57,"v":0.9},{"t":2003.57,"v":0.5},{"t":2003.57,"v":0.1},{"t":2003.57,"v":-0.3},{"t":2003.57,"v":-0.7},{"t":2003.57,"v":-1.1},{"t":2003.59,"v":2},{"t":2003.6,"v":0.8},{"t":2003.6,"v":0.4},{"t":2003.6,"v":-0.4},{"t":2003.64,"v":1.1},{"t":2003.64,"v":0.9},{"t":2003.64,"v":-0.5},
{"t":2003.035,"v":0.95},{"t":2003.035,"v":0.45},{"t":2003.035,"v":-0.25},{"t":2003.035,"v":-0.75},{"t":2003.035,"v":-1.05},{"t":2003.065,"v":1.15},{"t":2003.065,"v":0.35},{"t":2003.065,"v":-0.45},{"t":2003.065,"v":-1.2},{"t":2003.095,"v":0.85},{"t":2003.095,"v":0.05},{"t":2003.095,"v":-0.55},{"t":2003.095,"v":-1.4},{"t":2003.125,"v":1.25},{"t":2003.125,"v":0.45},{"t":2003.125,"v":-0.35},{"t":2003.125,"v":-0.95},{"t":2003.155,"v":0.95},{"t":2003.155,"v":0.15},{"t":2003.155,"v":-0.7},{"t":2003.155,"v":-1.1},{"t":2003.185,"v":1.35},{"t":2003.185,"v":0.65},{"t":2003.185,"v":-0.15},{"t":2003.185,"v":-0.85},{"t":2003.215,"v":1.1},{"t":2003.215,"v":0.2},{"t":2003.215,"v":-0.6},{"t":2003.215,"v":-1.4},{"t":2003.245,"v":1.45},{"t":2003.245,"v":0.55},{"t":2003.245,"v":-0.3},{"t":2003.245,"v":-1.05},{"t":2003.275,"v":0.95},{"t":2003.275,"v":0.25},{"t":2003.275,"v":-0.45},{"t":2003.275,"v":-1.25},{"t":2003.305,"v":1.25},{"t":2003.305,"v":0.45},{"t":2003.305,"v":-0.3},{"t":2003.305,"v":-1.1},{"t":2003.335,"v":1.05},{"t":2003.335,"v":0.15},{"t":2003.335,"v":-0.65},{"t":2003.335,"v":-1.45},{"t":2003.365,"v":1.45},{"t":2003.365,"v":0.65},{"t":2003.365,"v":-0.15},{"t":2003.365,"v":-1},{"t":2003.395,"v":1.05},{"t":2003.395,"v":0.25},{"t":2003.395,"v":-0.55},{"t":2003.395,"v":-1.35},{"t":2003.425,"v":1.35},{"t":2003.425,"v":0.55},{"t":2003.425,"v":-0.25},{"t":2003.425,"v":-1.05},{"t":2003.455,"v":0.95},{"t":2003.455,"v":0.15},{"t":2003.455,"v":-0.65},{"t":2003.455,"v":-1.2},{"t":2003.485,"v":0.55},{"t":2003.485,"v":-0.2},{"t":2003.485,"v":-0.95},{"t":2003.515,"v":0.85},{"t":2003.515,"v":0.05},{"t":2003.515,"v":-0.75},
{"t":2003.92,"v":0.1},{"t":2003.92,"v":-0.9},{"t":2003.94,"v":-0.9},{"t":2003.94,"v":-0.5},{"t":2003.97,"v":-0.17},{"t":2003.97,"v":-0.6},{"t":2003.99,"v":-2.12},{"t":2003.99,"v":-0.4},{"t":2004.06,"v":0.6},{"t":2004.06,"v":-0.3},{"t":2004.06,"v":-0.68},{"t":2004.08,"v":0.7},{"t":2004.08,"v":0.2},{"t":2004.08,"v":-0.9},{"t":2004.11,"v":0.4},{"t":2004.11,"v":-0.5},{"t":2004.11,"v":-1},{"t":2004.11,"v":-1.4},{"t":2004.14,"v":0.3},{"t":2004.14,"v":-0.3},{"t":2004.14,"v":-0.8},{"t":2004.14,"v":-1.2},{"t":2004.16,"v":-2.12},{"t":2004.16,"v":-0.4},{"t":2004.16,"v":-1.4},{"t":2004.19,"v":0.5},{"t":2004.19,"v":0},{"t":2004.19,"v":-0.6},{"t":2004.19,"v":-1.1},{"t":2004.21,"v":-1.55},{"t":2004.22,"v":0.9},{"t":2004.22,"v":0.3},{"t":2004.22,"v":-0.3},{"t":2004.22,"v":-0.8},{"t":2004.22,"v":-1.2},{"t":2004.25,"v":0.6},{"t":2004.25,"v":0.1},{"t":2004.25,"v":-0.5},{"t":2004.25,"v":-1},{"t":2004.25,"v":-1.4},{"t":2004.28,"v":0.8},{"t":2004.28,"v":0.2},{"t":2004.28,"v":-0.4},{"t":2004.28,"v":-0.9},{"t":2004.28,"v":-1.3},{"t":2004.32,"v":1.73},{"t":2004.32,"v":1.3},{"t":2004.32,"v":0.5},{"t":2004.32,"v":-0.2},{"t":2004.32,"v":-0.8},{"t":2004.32,"v":-1.4},{"t":2004.35,"v":0.9},{"t":2004.35,"v":0.3},{"t":2004.35,"v":-0.5},{"t":2004.35,"v":-1},{"t":2004.38,"v":0.6},{"t":2004.38,"v":0},{"t":2004.38,"v":-0.6},{"t":2004.38,"v":-1.1},{"t":2004.41,"v":0.7},{"t":2004.41,"v":0.2},{"t":2004.41,"v":-0.4},{"t":2004.41,"v":-0.8},
{"t":2005.2,"v":0.4},{"t":2005.2,"v":0.2},{"t":2005.22,"v":0.5},{"t":2005.22,"v":0.3},{"t":2005.25,"v":0.45},{"t":2005.25,"v":0.1},{"t":2005.26,"v":0.6},{"t":2005.26,"v":0.3},{"t":2005.26,"v":-0.1},{"t":2005.28,"v":0.7},{"t":2005.28,"v":0},{"t":2005.28,"v":-0.3},{"t":2005.3,"v":0.5},{"t":2005.3,"v":0.2},{"t":2005.37,"v":0.7},{"t":2005.37,"v":0.4},{"t":2005.37,"v":0.2}],
"m2":[{"t":2000.68,"v":1},{"t":2000.68,"v":-0.4},{"t":2000.68,"v":-1},{"t":2000.74,"v":1.3},{"t":2000.74,"v":-0.9},{"t":2000.8,"v":2.9},{"t":2000.8,"v":1.6},{"t":2000.8,"v":-1.6},{"t":2000.82,"v":-2.49},{"t":2000.82,"v":1.9},{"t":2000.86,"v":2.5},{"t":2000.86,"v":2},{"t":2000.86,"v":1.5},{"t":2000.86,"v":-1.2},{"t":2000.9,"v":2.1},{"t":2000.9,"v":1.8},{"t":2000.9,"v":1.3},{"t":2000.94,"v":2.1},{"t":2000.94,"v":1.7},{"t":2000.94,"v":1.2},{"t":2000.98,"v":2},{"t":2000.98,"v":1.5},{"t":2000.98,"v":0.9},{"t":2000.98,"v":-0.8},{"t":2001,"v":2.8},{"t":2001,"v":2.6},{"t":2001,"v":2.2},{"t":2001.02,"v":2},{"t":2001.02,"v":1.5},{"t":2001.02,"v":1},{"t":2001.02,"v":-1},{"t":2001.05,"v":1.9},{"t":2001.05,"v":1.6},
{"t":2001.48,"v":2.62},{"t":2001.48,"v":2.3},{"t":2001.48,"v":1.7},{"t":2001.48,"v":1.2},{"t":2001.48,"v":0.6},{"t":2001.48,"v":-0.6},{"t":2001.55,"v":-1},{"t":2001.6,"v":1.5},{"t":2001.6,"v":-1.2},{"t":2001.64,"v":2.6},{"t":2001.64,"v":2.3},{"t":2001.64,"v":1.9},{"t":2001.64,"v":-1.5},{"t":2001.7,"v":1.7},{"t":2001.7,"v":-1.8},{"t":2001.76,"v":1.4},{"t":2001.76,"v":-2},{"t":2001.76,"v":-1.4},{"t":2001.8,"v":-2.68},{"t":2001.8,"v":-2.2},{"t":2001.8,"v":1.2},{"t":2001.84,"v":2.9},{"t":2001.84,"v":1.8},{"t":2001.84,"v":-1.8},{"t":2001.88,"v":-1.5},{"t":2001.88,"v":1.4},{"t":2001.92,"v":-1.9},{"t":2001.92,"v":-1.6},{"t":2001.92,"v":1.3},{"t":2001.96,"v":-1.4},{"t":2001.96,"v":-1},{"t":2002,"v":2.5},{"t":2002,"v":2.3},{"t":2002,"v":-1.3},{"t":2002,"v":-0.9},{"t":2002.04,"v":-1.6},{"t":2002.04,"v":-1.1},{"t":2002.04,"v":1},{"t":2002.09,"v":-2.49},{"t":2002.09,"v":-1.5},{"t":2002.09,"v":-1},{"t":2002.13,"v":-1.8},{"t":2002.13,"v":-1.2},{"t":2002.13,"v":-0.7},{"t":2002.17,"v":-1.5},{"t":2002.17,"v":-0.9},{"t":2002.2,"v":-2.78},{"t":2002.2,"v":-2},{"t":2002.2,"v":-1.4},{"t":2002.2,"v":-0.8},{"t":2002.24,"v":-1.6},{"t":2002.24,"v":-1.1},{"t":2002.24,"v":0.5},{"t":2002.28,"v":-1.3},{"t":2002.28,"v":-0.7},
{"t":2002.35,"v":0.6},{"t":2002.35,"v":-1.3},{"t":2002.35,"v":-1.4},{"t":2002.4,"v":1},{"t":2002.4,"v":-1.27},{"t":2002.45,"v":-1.1},{"t":2002.45,"v":0.9},{"t":2002.5,"v":1.2},{"t":2002.5,"v":-1.2},{"t":2002.55,"v":1.5},{"t":2002.55,"v":-1.6},{"t":2002.59,"v":1.66},{"t":2002.59,"v":-1.4},{"t":2002.64,"v":1.4},{"t":2002.64,"v":-1.5},{"t":2002.64,"v":1.2},{"t":2002.68,"v":1.3},{"t":2002.68,"v":-1.2},{"t":2002.68,"v":0.9},{"t":2002.72,"v":1.1},{"t":2002.72,"v":-1.3},{"t":2002.76,"v":0.9},{"t":2002.76,"v":-2.27},{"t":2002.8,"v":1},{"t":2002.8,"v":-0.8},{"t":2002.83,"v":1.37},{"t":2002.83,"v":0.5},{"t":2002.83,"v":-1.85},{"t":2002.86,"v":2.1},{"t":2002.86,"v":0.3},
{"t":2002.95,"v":0.2},{"t":2002.95,"v":-1.4},{"t":2003,"v":1.2},{"t":2003,"v":-0.9},{"t":2003.04,"v":1.6},{"t":2003.04,"v":-1.3},{"t":2003.08,"v":1.8},{"t":2003.08,"v":-1.9},{"t":2003.12,"v":1.9},{"t":2003.12,"v":-1.7},{"t":2003.16,"v":2},{"t":2003.16,"v":-1.9},{"t":2003.16,"v":-2.1},{"t":2003.2,"v":2},{"t":2003.2,"v":-1.8},{"t":2003.24,"v":2.3},{"t":2003.24,"v":-2.2},{"t":2003.24,"v":1.6},{"t":2003.26,"v":-2.78},{"t":2003.29,"v":2.6},{"t":2003.29,"v":2.2},{"t":2003.29,"v":-1.9},{"t":2003.33,"v":2.3},{"t":2003.33,"v":-2},{"t":2003.33,"v":-1.6},{"t":2003.37,"v":2.5},{"t":2003.37,"v":2.23},{"t":2003.37,"v":-2.1},{"t":2003.4,"v":2.6},{"t":2003.4,"v":-1.8},{"t":2003.4,"v":1.9},{"t":2003.43,"v":2.8},{"t":2003.43,"v":2.6},{"t":2003.43,"v":-2.3},{"t":2003.47,"v":2},{"t":2003.47,"v":-1.9},{"t":2003.47,"v":1.7},{"t":2003.51,"v":2.15},{"t":2003.51,"v":-1.5},{"t":2003.51,"v":1.5},{"t":2003.55,"v":1.8},{"t":2003.55,"v":-1.85},{"t":2003.55,"v":0.9},{"t":2003.59,"v":1},{"t":2003.59,"v":-1.4},{"t":2003.59,"v":0.6},{"t":2003.63,"v":0.4},{"t":2003.63,"v":-0.5},{"t":2003.63,"v":-0.3},
{"t":2003.92,"v":0.5},{"t":2003.92,"v":-0.9},{"t":2003.98,"v":0.5},{"t":2003.98,"v":-1.35},{"t":2003.98,"v":-1},{"t":2004.07,"v":-0.5},{"t":2004.07,"v":-0.9},{"t":2004.12,"v":0.9},{"t":2004.12,"v":-1.3},{"t":2004.17,"v":2.52},{"t":2004.17,"v":1.5},{"t":2004.17,"v":0.8},{"t":2004.17,"v":-1.85},{"t":2004.22,"v":2.16},{"t":2004.22,"v":1.2},{"t":2004.22,"v":-1.5},{"t":2004.27,"v":1.6},{"t":2004.27,"v":0.7},{"t":2004.27,"v":-1.2},{"t":2004.31,"v":1.9},{"t":2004.31,"v":1.3},{"t":2004.31,"v":-1.85},{"t":2004.31,"v":-1.4},{"t":2004.36,"v":1.5},{"t":2004.36,"v":0.6},{"t":2004.36,"v":-0.8},{"t":2004.39,"v":1.87},{"t":2004.39,"v":1},{"t":2004.39,"v":0.2},{"t":2004.41,"v":1},{"t":2004.41,"v":0.3},
{"t":2005.2,"v":0.23},{"t":2005.2,"v":2.16},{"t":2005.2,"v":1.9},{"t":2005.2,"v":1.5},{"t":2005.2,"v":1.1},{"t":2005.24,"v":2.3},{"t":2005.24,"v":1.7},{"t":2005.27,"v":1.9},{"t":2005.27,"v":1.4},{"t":2005.29,"v":2.38},{"t":2005.29,"v":2.7},{"t":2005.29,"v":1.2}],
"b2":[{"t":2000.68,"v":1.6},{"t":2000.68,"v":1},{"t":2000.68,"v":0},{"t":2000.68,"v":0.4},{"t":2000.68,"v":-0.3},{"t":2000.72,"v":1.2},{"t":2000.72,"v":0.8},{"t":2000.72,"v":0.4},{"t":2000.72,"v":0},{"t":2000.72,"v":-0.4},{"t":2000.72,"v":-0.8},{"t":2000.76,"v":2.16},{"t":2000.77,"v":1.87},{"t":2000.76,"v":1},{"t":2000.76,"v":0.6},{"t":2000.76,"v":0.2},{"t":2000.76,"v":-0.2},{"t":2000.76,"v":-0.6},{"t":2000.79,"v":1.1},{"t":2000.79,"v":0.7},{"t":2000.79,"v":0.3},{"t":2000.79,"v":-0.1},{"t":2000.79,"v":-0.5},{"t":2000.79,"v":-0.9},{"t":2000.82,"v":0.9},{"t":2000.82,"v":0.5},{"t":2000.82,"v":0.1},{"t":2000.82,"v":-0.3},{"t":2000.82,"v":-0.7},{"t":2000.82,"v":-1.1},{"t":2000.82,"v":-1.7},{"t":2000.83,"v":-1.9},{"t":2000.85,"v":1},{"t":2000.85,"v":0.6},{"t":2000.85,"v":0.2},{"t":2000.85,"v":-0.2},{"t":2000.85,"v":-0.6},{"t":2000.85,"v":-1},{"t":2000.88,"v":0.8},{"t":2000.88,"v":0.4},{"t":2000.88,"v":0},{"t":2000.88,"v":-0.4},{"t":2000.88,"v":-0.8},{"t":2000.92,"v":1.2},{"t":2000.92,"v":0.6},{"t":2000.92,"v":0.2},{"t":2000.92,"v":-0.3},{"t":2000.92,"v":-0.7},{"t":2000.96,"v":0.9},{"t":2000.96,"v":0.4},{"t":2000.96,"v":-0.1},{"t":2000.96,"v":-0.5},{"t":2000.96,"v":-0.9},{"t":2001,"v":2.23},{"t":2001,"v":1.73},{"t":2001,"v":0.5},{"t":2001,"v":0.1},{"t":2001,"v":-0.4},{"t":2001,"v":-1.1},{"t":2001,"v":-1.7},{"t":2001.03,"v":0.3},{"t":2001.03,"v":-0.2},{"t":2001.03,"v":-0.6},{"t":2001.03,"v":-1.77},{"t":2001.06,"v":1.6},{"t":2001.06,"v":0.6},{"t":2001.06,"v":-0.5},{"t":2001.06,"v":-1.3},{"t":2001.06,"v":-1.77},
{"t":2000.765,"v":0.75},{"t":2000.765,"v":-0.35},{"t":2000.765,"v":0.35},{"t":2000.805,"v":0.95},{"t":2000.805,"v":0.25},{"t":2000.805,"v":-0.6},{"t":2000.835,"v":0.75},{"t":2000.835,"v":-0.05},{"t":2000.835,"v":-0.85},{"t":2000.865,"v":0.45},{"t":2000.865,"v":-0.4},{"t":2000.905,"v":0.95},{"t":2000.905,"v":0.05},{"t":2000.905,"v":-0.5},{"t":2000.975,"v":0.7},{"t":2000.975,"v":0.15},{"t":2000.975,"v":-0.75},
{"t":2001.48,"v":1.37},{"t":2001.48,"v":0.9},{"t":2001.48,"v":0.5},{"t":2001.48,"v":0.1},{"t":2001.48,"v":-0.3},{"t":2001.48,"v":-0.7},{"t":2001.48,"v":-1.06},{"t":2001.52,"v":1.6},{"t":2001.52,"v":1},{"t":2001.52,"v":0.3},{"t":2001.52,"v":-0.5},{"t":2001.55,"v":1.2},{"t":2001.55,"v":0.7},{"t":2001.55,"v":0.2},{"t":2001.55,"v":-0.3},{"t":2001.55,"v":-0.8},{"t":2001.55,"v":-1.2},{"t":2001.58,"v":1.4},{"t":2001.58,"v":0.9},{"t":2001.58,"v":0.4},{"t":2001.58,"v":-0.1},{"t":2001.58,"v":-0.6},{"t":2001.58,"v":-1.1},{"t":2001.58,"v":-1.5},{"t":2001.61,"v":1.8},{"t":2001.61,"v":1.2},{"t":2001.61,"v":0.7},{"t":2001.61,"v":0.2},{"t":2001.61,"v":-0.3},{"t":2001.61,"v":-0.8},{"t":2001.61,"v":-1.3},{"t":2001.65,"v":2.52},{"t":2001.64,"v":1.6},{"t":2001.64,"v":1.1},{"t":2001.64,"v":0.6},{"t":2001.64,"v":0.1},{"t":2001.64,"v":-0.4},{"t":2001.64,"v":-0.9},{"t":2001.64,"v":-1.4},{"t":2001.65,"v":-1.92},{"t":2001.66,"v":-2.63},{"t":2001.67,"v":1.4},{"t":2001.67,"v":0.9},{"t":2001.67,"v":0.4},{"t":2001.67,"v":-0.1},{"t":2001.67,"v":-0.6},{"t":2001.67,"v":-1.1},{"t":2001.67,"v":-1.6},{"t":2001.7,"v":1.2},{"t":2001.7,"v":0.7},{"t":2001.7,"v":0.2},{"t":2001.7,"v":-0.3},{"t":2001.7,"v":-0.8},{"t":2001.7,"v":-1.3},{"t":2001.73,"v":1.5},{"t":2001.73,"v":1},{"t":2001.73,"v":0.5},{"t":2001.73,"v":0},{"t":2001.73,"v":-0.5},{"t":2001.73,"v":-1},{"t":2001.73,"v":-1.5},{"t":2001.73,"v":-2.27},{"t":2001.76,"v":1.3},{"t":2001.76,"v":0.8},{"t":2001.76,"v":0.3},{"t":2001.76,"v":-0.2},{"t":2001.76,"v":-0.7},{"t":2001.76,"v":-1.2},{"t":2001.79,"v":1.1},{"t":2001.79,"v":0.6},{"t":2001.79,"v":0.1},{"t":2001.79,"v":-0.4},{"t":2001.79,"v":-0.9},{"t":2001.8,"v":-1.85},{"t":2001.82,"v":1.6},{"t":2001.82,"v":1},{"t":2001.82,"v":0.5},{"t":2001.82,"v":0},{"t":2001.82,"v":-0.5},{"t":2001.82,"v":-1},{"t":2001.82,"v":-1.4},{"t":2001.86,"v":1.2},{"t":2001.86,"v":0.7},{"t":2001.86,"v":0.2},{"t":2001.86,"v":-0.3},{"t":2001.86,"v":-0.8},{"t":2001.86,"v":-2.49},{"t":2001.89,"v":2.45},{"t":2001.89,"v":1.7},{"t":2001.89,"v":0.9},{"t":2001.89,"v":0.4},{"t":2001.89,"v":-0.1},{"t":2001.89,"v":-0.6},{"t":2001.89,"v":-1.1},{"t":2001.92,"v":1},{"t":2001.92,"v":0.5},{"t":2001.92,"v":0},{"t":2001.92,"v":-0.5},{"t":2001.92,"v":-1},{"t":2001.92,"v":-2.27},{"t":2001.95,"v":1.3},{"t":2001.95,"v":0.6},{"t":2001.95,"v":0.1},{"t":2001.95,"v":-0.4},{"t":2001.95,"v":-0.9},{"t":2001.95,"v":-1.3},{"t":2001.98,"v":0.8},{"t":2001.98,"v":0.3},{"t":2001.98,"v":-0.2},{"t":2001.98,"v":-0.7},{"t":2001.98,"v":-1.2},{"t":2002.02,"v":1},{"t":2002.02,"v":0.4},{"t":2002.02,"v":-0.1},{"t":2002.02,"v":-0.6},{"t":2002.06,"v":0.7},{"t":2002.06,"v":0.2},{"t":2002.06,"v":-0.3},{"t":2002.06,"v":-0.8},{"t":2002.09,"v":1.9},{"t":2002.09,"v":0.9},{"t":2002.09,"v":0.3},{"t":2002.09,"v":-0.2},{"t":2002.13,"v":0.6},{"t":2002.13,"v":0},{"t":2002.13,"v":-0.5},{"t":2002.17,"v":1.23},{"t":2002.17,"v":0.5},{"t":2002.17,"v":-0.1},{"t":2002.17,"v":-0.6},{"t":2002.17,"v":-1},{"t":2002.21,"v":1.2},{"t":2002.21,"v":0.8},{"t":2002.21,"v":0.4},{"t":2002.21,"v":0},{"t":2002.21,"v":-0.4},{"t":2002.22,"v":-1.27},{"t":2002.25,"v":0.6},{"t":2002.25,"v":0.2},{"t":2002.25,"v":-0.3},{"t":2002.25,"v":-1.2},{"t":2002.28,"v":0.9},{"t":2002.28,"v":0},{"t":2002.28,"v":-0.5},
{"t":2001.595,"v":1.1},{"t":2001.595,"v":0.15},{"t":2001.595,"v":-0.85},{"t":2001.625,"v":0.95},{"t":2001.625,"v":0.45},{"t":2001.625,"v":-0.55},{"t":2001.625,"v":-1.05},{"t":2001.655,"v":1.35},{"t":2001.655,"v":0.35},{"t":2001.655,"v":-0.65},{"t":2001.655,"v":-1.15},{"t":2001.685,"v":0.65},{"t":2001.685,"v":0.15},{"t":2001.685,"v":-0.85},{"t":2001.715,"v":0.95},{"t":2001.715,"v":-0.05},{"t":2001.715,"v":-1.05},{"t":2001.745,"v":1.25},{"t":2001.745,"v":0.25},{"t":2001.745,"v":-0.45},{"t":2001.745,"v":-0.95},{"t":2001.775,"v":0.55},{"t":2001.775,"v":-0.45},{"t":2001.775,"v":-1.45},{"t":2001.805,"v":0.85},{"t":2001.805,"v":0.35},{"t":2001.805,"v":-0.65},{"t":2001.835,"v":1.25},{"t":2001.835,"v":0.25},{"t":2001.835,"v":-0.25},{"t":2001.835,"v":-1.2},{"t":2001.875,"v":0.45},{"t":2001.875,"v":-0.55},{"t":2001.875,"v":-1.55},{"t":2001.905,"v":1.25},{"t":2001.905,"v":0.25},{"t":2001.905,"v":-0.75},{"t":2001.935,"v":0.75},{"t":2001.935,"v":-0.25},{"t":2001.935,"v":-1.45},{"t":2001.965,"v":0.55},{"t":2001.965,"v":-0.6},{"t":2002.005,"v":0.1},{"t":2002.005,"v":-0.95},
{"t":2002.34,"v":1.7},{"t":2002.34,"v":1},{"t":2002.34,"v":0.6},{"t":2002.34,"v":0.2},{"t":2002.34,"v":-0.2},{"t":2002.34,"v":-0.6},{"t":2002.34,"v":-1},{"t":2002.37,"v":0.9},{"t":2002.37,"v":0.5},{"t":2002.37,"v":0.1},{"t":2002.37,"v":-0.3},{"t":2002.37,"v":-0.7},{"t":2002.37,"v":-1.1},{"t":2002.39,"v":0.7},{"t":2002.39,"v":0.3},{"t":2002.39,"v":-0.1},{"t":2002.39,"v":-0.5},{"t":2002.39,"v":-2},{"t":2002.42,"v":0.8},{"t":2002.42,"v":0.4},{"t":2002.42,"v":0},{"t":2002.42,"v":-0.4},{"t":2002.42,"v":-0.8},{"t":2002.42,"v":-1.3},{"t":2002.46,"v":0.6},{"t":2002.46,"v":0.2},{"t":2002.46,"v":-0.2},{"t":2002.46,"v":-2},{"t":2002.49,"v":0.9},{"t":2002.49,"v":0.5},{"t":2002.49,"v":0.1},{"t":2002.49,"v":-0.3},{"t":2002.49,"v":-0.7},{"t":2002.5,"v":-2},{"t":2002.52,"v":1.1},{"t":2002.52,"v":0.7},{"t":2002.52,"v":0.3},{"t":2002.52,"v":-0.1},{"t":2002.52,"v":-0.5},{"t":2002.52,"v":-0.9},{"t":2002.52,"v":-1.3},{"t":2002.55,"v":1.5},{"t":2002.55,"v":1},{"t":2002.55,"v":0.6},{"t":2002.55,"v":0.2},{"t":2002.55,"v":-0.2},{"t":2002.55,"v":-0.6},{"t":2002.55,"v":-1},{"t":2002.57,"v":2.23},{"t":2002.57,"v":2},{"t":2002.57,"v":1.2},{"t":2002.57,"v":0.8},{"t":2002.57,"v":0.4},{"t":2002.57,"v":0},{"t":2002.57,"v":-0.4},{"t":2002.57,"v":-0.8},{"t":2002.57,"v":-1.2},{"t":2002.57,"v":-2.68},{"t":2002.6,"v":1},{"t":2002.6,"v":0.6},{"t":2002.6,"v":0.2},{"t":2002.6,"v":-0.2},{"t":2002.6,"v":-0.6},{"t":2002.6,"v":-1},{"t":2002.6,"v":-1.4},{"t":2002.63,"v":1.3},{"t":2002.63,"v":0.8},{"t":2002.63,"v":0.4},{"t":2002.63,"v":0},{"t":2002.63,"v":-0.4},{"t":2002.63,"v":-0.8},{"t":2002.63,"v":-1.3},{"t":2002.63,"v":-1.8},{"t":2002.67,"v":0.9},{"t":2002.67,"v":0.5},{"t":2002.67,"v":0.1},{"t":2002.67,"v":-0.3},{"t":2002.67,"v":-0.7},{"t":2002.67,"v":-1.1},{"t":2002.67,"v":-2.56},{"t":2002.67,"v":-2.7},{"t":2002.7,"v":0.6},{"t":2002.7,"v":0.2},{"t":2002.7,"v":-0.2},{"t":2002.7,"v":-0.6},{"t":2002.7,"v":-1},{"t":2002.74,"v":0.5},{"t":2002.74,"v":0},{"t":2002.74,"v":-0.5},{"t":2002.74,"v":-1},{"t":2002.78,"v":0.3},{"t":2002.78,"v":-0.3},{"t":2002.78,"v":-1.85},{"t":2002.81,"v":0.1},{"t":2002.81,"v":-0.6},{"t":2002.81,"v":-1},{"t":2002.84,"v":-0.3},{"t":2002.84,"v":-1},
{"t":2002.505,"v":0.9},{"t":2002.505,"v":0.1},{"t":2002.505,"v":-0.7},{"t":2002.535,"v":0.5},{"t":2002.535,"v":-0.3},{"t":2002.535,"v":-1.1},{"t":2002.565,"v":1},{"t":2002.565,"v":0.6},{"t":2002.565,"v":-0.6},{"t":2002.565,"v":-1.5},{"t":2002.595,"v":0.8},{"t":2002.595,"v":0},{"t":2002.595,"v":-0.8},{"t":2002.625,"v":1.05},{"t":2002.625,"v":0.2},{"t":2002.625,"v":-1.05},{"t":2002.655,"v":0.7},{"t":2002.655,"v":-0.1},{"t":2002.655,"v":-0.9},
{"t":2002.96,"v":1.2},{"t":2002.96,"v":0.8},{"t":2002.96,"v":0.4},{"t":2002.96,"v":0},{"t":2002.96,"v":-0.4},{"t":2002.96,"v":-0.8},{"t":2002.96,"v":-1.2},{"t":2003,"v":1.8},{"t":2003,"v":1},{"t":2003,"v":0.6},{"t":2003,"v":0.2},{"t":2003,"v":-0.2},{"t":2003,"v":-0.6},{"t":2003,"v":-1},{"t":2003,"v":-1.4},{"t":2003,"v":-2.27},{"t":2003.03,"v":1.3},{"t":2003.03,"v":0.9},{"t":2003.03,"v":0.5},{"t":2003.03,"v":0.1},{"t":2003.03,"v":-0.3},{"t":2003.03,"v":-0.7},{"t":2003.03,"v":-1.1},{"t":2003.03,"v":-1.5},{"t":2003.07,"v":1.5},{"t":2003.07,"v":1.1},{"t":2003.07,"v":0.7},{"t":2003.07,"v":0.3},{"t":2003.07,"v":-0.1},{"t":2003.07,"v":-0.5},{"t":2003.07,"v":-0.9},{"t":2003.07,"v":-1.7},{"t":2003.07,"v":-2.2},{"t":2003.1,"v":1.2},{"t":2003.1,"v":0.8},{"t":2003.1,"v":0.4},{"t":2003.1,"v":0},{"t":2003.1,"v":-0.4},{"t":2003.1,"v":-0.8},{"t":2003.1,"v":-1.2},{"t":2003.1,"v":-1.6},{"t":2003.13,"v":1.4},{"t":2003.13,"v":1},{"t":2003.13,"v":0.6},{"t":2003.13,"v":0.2},{"t":2003.13,"v":-0.2},{"t":2003.13,"v":-0.6},{"t":2003.13,"v":-1},{"t":2003.13,"v":-1.4},{"t":2003.13,"v":-1.8},{"t":2003.16,"v":1.6},{"t":2003.16,"v":1.1},{"t":2003.16,"v":0.7},{"t":2003.16,"v":0.3},{"t":2003.16,"v":-0.1},{"t":2003.16,"v":-0.5},{"t":2003.16,"v":-0.9},{"t":2003.16,"v":-1.3},{"t":2003.16,"v":-2.2},{"t":2003.19,"v":2.3},{"t":2003.19,"v":1.9},{"t":2003.19,"v":1.3},{"t":2003.19,"v":0.9},{"t":2003.19,"v":0.5},{"t":2003.19,"v":0.1},{"t":2003.19,"v":-0.3},{"t":2003.19,"v":-0.7},{"t":2003.19,"v":-1.1},{"t":2003.19,"v":-1.5},{"t":2003.22,"v":1.7},{"t":2003.22,"v":1.2},{"t":2003.22,"v":0.8},{"t":2003.22,"v":0.4},{"t":2003.22,"v":0},{"t":2003.22,"v":-0.4},{"t":2003.22,"v":-0.8},{"t":2003.22,"v":-1.2},{"t":2003.22,"v":-1.6},{"t":2003.26,"v":2.7},{"t":2003.26,"v":2},{"t":2003.26,"v":1.5},{"t":2003.26,"v":1},{"t":2003.26,"v":0.6},{"t":2003.26,"v":0.2},{"t":2003.26,"v":-0.2},{"t":2003.26,"v":-0.6},{"t":2003.26,"v":-1},{"t":2003.26,"v":-1.4},{"t":2003.26,"v":-1.9},{"t":2003.29,"v":1.8},{"t":2003.29,"v":1.3},{"t":2003.29,"v":0.9},{"t":2003.29,"v":0.5},{"t":2003.29,"v":0.1},{"t":2003.29,"v":-0.3},{"t":2003.29,"v":-0.7},{"t":2003.29,"v":-1.1},{"t":2003.29,"v":-1.5},{"t":2003.32,"v":2.1},{"t":2003.32,"v":1.6},{"t":2003.32,"v":1.1},{"t":2003.32,"v":0.7},{"t":2003.32,"v":0.3},{"t":2003.32,"v":-0.1},{"t":2003.32,"v":-0.5},{"t":2003.32,"v":-0.9},{"t":2003.32,"v":-1.3},{"t":2003.32,"v":-1.7},{"t":2003.35,"v":1.4},{"t":2003.35,"v":1},{"t":2003.35,"v":0.6},{"t":2003.35,"v":0.2},{"t":2003.35,"v":-0.2},{"t":2003.35,"v":-0.6},{"t":2003.35,"v":-1},{"t":2003.35,"v":-1.4},{"t":2003.35,"v":-1.8},{"t":2003.35,"v":-2.27},{"t":2003.37,"v":1.9},{"t":2003.37,"v":1.2},{"t":2003.37,"v":0.8},{"t":2003.37,"v":0.4},{"t":2003.37,"v":0},{"t":2003.37,"v":-0.4},{"t":2003.37,"v":-0.8},{"t":2003.37,"v":-1.2},{"t":2003.37,"v":-2},{"t":2003.37,"v":-2.68},{"t":2003.4,"v":1.5},{"t":2003.4,"v":1.1},{"t":2003.4,"v":0.7},{"t":2003.4,"v":0.3},{"t":2003.4,"v":-0.1},{"t":2003.4,"v":-0.5},{"t":2003.4,"v":-0.9},{"t":2003.4,"v":-1.3},{"t":2003.4,"v":-1.7},{"t":2003.4,"v":-2.1},{"t":2003.43,"v":2.8},{"t":2003.43,"v":1.7},{"t":2003.43,"v":1},{"t":2003.43,"v":0.6},{"t":2003.43,"v":0.2},{"t":2003.43,"v":-0.2},{"t":2003.43,"v":-0.6},{"t":2003.43,"v":-1},{"t":2003.43,"v":-1.4},{"t":2003.43,"v":-1.9},{"t":2003.43,"v":-2.63},{"t":2003.46,"v":1.3},{"t":2003.46,"v":0.9},{"t":2003.46,"v":0.5},{"t":2003.46,"v":0.1},{"t":2003.46,"v":-0.3},{"t":2003.46,"v":-0.7},{"t":2003.46,"v":-1.1},{"t":2003.46,"v":-1.5},{"t":2003.46,"v":-2.3},{"t":2003.49,"v":1.1},{"t":2003.49,"v":0.7},{"t":2003.49,"v":0.3},{"t":2003.49,"v":-0.1},{"t":2003.49,"v":-0.5},{"t":2003.49,"v":-0.9},{"t":2003.49,"v":-1.3},{"t":2003.49,"v":-1.8},{"t":2003.51,"v":2.52},{"t":2003.51,"v":1},{"t":2003.51,"v":0.5},{"t":2003.51,"v":0},{"t":2003.51,"v":-0.5},{"t":2003.51,"v":-1},{"t":2003.51,"v":-2.42},{"t":2003.54,"v":0.9},{"t":2003.54,"v":0.4},{"t":2003.54,"v":-0.1},{"t":2003.54,"v":-0.6},{"t":2003.54,"v":-1.1},{"t":2003.54,"v":-1.5},{"t":2003.56,"v":2.37},{"t":2003.56,"v":0.8},{"t":2003.56,"v":0.3},{"t":2003.56,"v":-0.2},{"t":2003.56,"v":-0.7},{"t":2003.6,"v":1.2},{"t":2003.6,"v":0.6},{"t":2003.6,"v":-0.3},{"t":2003.6,"v":-0.8},{"t":2003.64,"v":1.37},{"t":2003.64,"v":0.9},{"t":2003.64,"v":-0.85},
{"t":2003.035,"v":1.1},{"t":2003.035,"v":0.3},{"t":2003.035,"v":-0.5},{"t":2003.035,"v":-1.3},{"t":2003.065,"v":0.9},{"t":2003.065,"v":0.1},{"t":2003.065,"v":-0.7},{"t":2003.065,"v":-1.35},{"t":2003.095,"v":1.4},{"t":2003.095,"v":0.6},{"t":2003.095,"v":-0.2},{"t":2003.095,"v":-1},{"t":2003.125,"v":1.2},{"t":2003.125,"v":0.4},{"t":2003.125,"v":-0.4},{"t":2003.125,"v":-1.2},{"t":2003.155,"v":0.9},{"t":2003.155,"v":0.1},{"t":2003.155,"v":-0.7},{"t":2003.155,"v":-1.6},{"t":2003.185,"v":1.1},{"t":2003.185,"v":0.3},{"t":2003.185,"v":-0.5},{"t":2003.185,"v":-1.3},{"t":2003.215,"v":1.4},{"t":2003.215,"v":0.6},{"t":2003.215,"v":-0.2},{"t":2003.215,"v":-1},{"t":2003.215,"v":-1.8},{"t":2003.245,"v":1.25},{"t":2003.245,"v":0.4},{"t":2003.245,"v":-0.4},{"t":2003.245,"v":-1.2},{"t":2003.275,"v":1.6},{"t":2003.275,"v":0.7},{"t":2003.275,"v":-0.1},{"t":2003.275,"v":-0.9},{"t":2003.275,"v":-1.7},{"t":2003.305,"v":1.3},{"t":2003.305,"v":0.5},{"t":2003.305,"v":-0.3},{"t":2003.305,"v":-1.1},{"t":2003.335,"v":1.7},{"t":2003.335,"v":0.8},{"t":2003.335,"v":0},{"t":2003.335,"v":-0.8},{"t":2003.335,"v":-1.6},{"t":2003.365,"v":1.4},{"t":2003.365,"v":0.6},{"t":2003.365,"v":-0.2},{"t":2003.365,"v":-1},{"t":2003.365,"v":-1.9},{"t":2003.395,"v":1.3},{"t":2003.395,"v":0.5},{"t":2003.395,"v":-0.3},{"t":2003.395,"v":-1.1},{"t":2003.395,"v":-1.5},{"t":2003.425,"v":1.2},{"t":2003.425,"v":0.4},{"t":2003.425,"v":-0.4},{"t":2003.425,"v":-1.2},{"t":2003.425,"v":-2},{"t":2003.455,"v":1.1},{"t":2003.455,"v":0.3},{"t":2003.455,"v":-0.5},{"t":2003.455,"v":-1.3},{"t":2003.485,"v":0.9},{"t":2003.485,"v":0.1},{"t":2003.485,"v":-0.7},{"t":2003.485,"v":-1.5},{"t":2003.515,"v":0.75},{"t":2003.515,"v":-0.25},{"t":2003.515,"v":-1.25},
{"t":2003.91,"v":-1},{"t":2003.91,"v":-0.4},{"t":2003.94,"v":-0.9},{"t":2003.94,"v":-1.3},{"t":2003.97,"v":-0.13},{"t":2003.97,"v":-0.56},{"t":2003.97,"v":-1.1},{"t":2003.99,"v":-2.06},{"t":2004.06,"v":0.5},{"t":2004.06,"v":-0.2},{"t":2004.06,"v":-1.13},{"t":2004.06,"v":-1.2},{"t":2004.08,"v":0.44},{"t":2004.08,"v":0.1},{"t":2004.08,"v":-0.7},{"t":2004.12,"v":0.3},{"t":2004.12,"v":-0.4},{"t":2004.12,"v":-1},{"t":2004.12,"v":-1.5},{"t":2004.15,"v":0},{"t":2004.15,"v":-0.6},{"t":2004.15,"v":-1.2},{"t":2004.15,"v":-1.7},{"t":2004.15,"v":-2.06},{"t":2004.18,"v":1.37},{"t":2004.18,"v":0.6},{"t":2004.18,"v":-0.3},{"t":2004.18,"v":-0.9},{"t":2004.18,"v":-1.4},{"t":2004.18,"v":-2},{"t":2004.21,"v":0.8},{"t":2004.21,"v":0.2},{"t":2004.21,"v":-0.4},{"t":2004.21,"v":-1},{"t":2004.21,"v":-2.78},{"t":2004.21,"v":-2.5},{"t":2004.24,"v":-2.27},{"t":2004.24,"v":0.5},{"t":2004.24,"v":-0.1},{"t":2004.24,"v":-0.7},{"t":2004.24,"v":-1.3},{"t":2004.27,"v":1},{"t":2004.27,"v":0.3},{"t":2004.27,"v":-0.3},{"t":2004.27,"v":-0.9},{"t":2004.27,"v":-1.5},{"t":2004.3,"v":1.2},{"t":2004.3,"v":0.6},{"t":2004.3,"v":0},{"t":2004.3,"v":-0.6},{"t":2004.3,"v":-1.2},{"t":2004.3,"v":-1.9},{"t":2004.32,"v":1.8},{"t":2004.32,"v":0.9},{"t":2004.32,"v":-0.2},{"t":2004.32,"v":-0.8},{"t":2004.32,"v":-2.35},{"t":2004.35,"v":0.7},{"t":2004.35,"v":0.1},{"t":2004.35,"v":-0.5},{"t":2004.35,"v":-1.1},{"t":2004.38,"v":0.8},{"t":2004.38,"v":0},{"t":2004.38,"v":-0.7},{"t":2004.38,"v":-1},{"t":2004.41,"v":-0.5},{"t":2004.41,"v":-0.7},{"t":2004.41,"v":-1},
{"t":2005.2,"v":2.23},{"t":2005.2,"v":1.8},{"t":2005.2,"v":1.6},{"t":2005.2,"v":1.4},{"t":2005.2,"v":1.2},{"t":2005.2,"v":1},{"t":2005.23,"v":1.5},{"t":2005.23,"v":1.1},{"t":2005.26,"v":0.73},{"t":2005.26,"v":1},{"t":2005.26,"v":1.3},{"t":2005.26,"v":0.9},{"t":2005.28,"v":1.6},{"t":2005.28,"v":1.2},{"t":2005.28,"v":1.4},{"t":2005.29,"v":2.88},{"t":2005.29,"v":2.52},{"t":2005.29,"v":1.7},{"t":2005.29,"v":1.3},{"t":2005.29,"v":1.1},{"t":2005.3,"v":2.6},{"t":2005.3,"v":1.5}]
},
"spacing":63,
"bounds":"flush",
"vconcat":[
{"width":697,"height":192,
"resolve":{"axis":{"x":"independent","y":"independent"}},
"layer":[
{"data":{"values":[{}]},"mark":{"type":"rule","color":"black","strokeDash":[2,3],"strokeWidth":1.3},
"encoding":{"x":{"datum":2000.55,"type":"quantitative","scale":{"domain":[2000.55,2005.5],"nice":false,"zero":false},"axis":{"orient":"bottom","values":[2001,2002,2003,2004,2005],"tickSize":-12,"labels":false,"title":null}},"x2":{"datum":2005.5},
"y":{"datum":3.53,"type":"quantitative","scale":{"domain":[2.78,9.93],"nice":false,"zero":false},"axis":{"orient":"left","values":[4,6,8],"tickSize":-12,"labelPadding":26,"title":"distance [au]","titlePadding":9}}}},
{"data":{"values":[{}]},"mark":{"type":"rule","color":"black","strokeDash":[2,3],"strokeWidth":1.3},
"encoding":{"x":{"datum":2002.33,"type":"quantitative","axis":{"orient":"bottom","values":[2000.6,2000.8,2001.2,2001.4,2001.6,2001.8,2002.2,2002.4,2002.6,2002.8,2003.2,2003.4,2003.6,2003.8,2004.2,2004.4,2004.6,2004.8,2005.2,2005.4],"tickSize":-6,"labels":false,"title":null}},
"y":{"datum":2.78,"type":"quantitative","axis":{"orient":"left","values":[3,3.5,4.5,5,5.5,6.5,7,7.5,8.5,9,9.5],"tickSize":-6,"labels":false,"title":null}},"y2":{"datum":9.93}}},
{"data":{"name":"dg"},"mark":{"type":"circle","color":"#00ff00","size":70,"opacity":1},
"encoding":{"x":{"field":"t","type":"quantitative","axis":{"orient":"top","values":[2001,2002,2003,2004,2005],"format":"d","tickSize":-12,"labelPadding":19,"title":null}},
"y":{"field":"v","type":"quantitative","axis":{"orient":"right","values":[4,6,8],"tickSize":-12,"labels":false,"title":null}}}},
{"data":{"name":"dr"},"mark":{"type":"circle","color":"#ff0000","size":70,"opacity":1},
"encoding":{"x":{"field":"t","type":"quantitative","axis":{"orient":"top","values":[2000.6,2000.8,2001.2,2001.4,2001.6,2001.8,2002.2,2002.4,2002.6,2002.8,2003.2,2003.4,2003.6,2003.8,2004.2,2004.4,2004.6,2004.8,2005.2,2005.4],"tickSize":-6,"labels":false,"title":null}},
"y":{"field":"v","type":"quantitative","axis":{"orient":"right","values":[3,3.5,4.5,5,5.5,6.5,7,7.5,8.5,9,9.5],"tickSize":-6,"labels":false,"title":null}}}},
{"data":{"values":[{}]},"mark":{"type":"text","text":"green - distance from the Earth","font":"Liberation Mono","fontSize":19,"color":"#00ff00","align":"left","baseline":"alphabetic"},
"encoding":{"x":{"datum":2001.4,"type":"quantitative","axis":null},"y":{"datum":8.97,"type":"quantitative","axis":null}}},
{"data":{"values":[{}]},"mark":{"type":"text","text":"red - distance from the Sun","font":"Liberation Mono","fontSize":19,"color":"#ff0000","align":"left","baseline":"alphabetic"},
"encoding":{"x":{"datum":2001.4,"type":"quantitative","axis":null},"y":{"datum":8.23,"type":"quantitative","axis":null}}},
{"data":{"values":[{}]},"mark":{"type":"text","text":"C/2000 SV","font":"Liberation Mono","fontSize":19,"color":"black","align":"left","baseline":"alphabetic"},
"encoding":{"x":{"datum":2003.903,"type":"quantitative","axis":null},"y":{"datum":3.85,"type":"quantitative","axis":null}}},
{"data":{"values":[{}]},"mark":{"type":"text","text":"74","font":"Liberation Sans","fontWeight":"bold","fontSize":13,"color":"black","align":"left","baseline":"alphabetic"},
"encoding":{"x":{"datum":2004.658,"type":"quantitative","axis":null},"y":{"datum":3.66,"type":"quantitative","axis":null}}},
{"data":{"values":[{}]},"mark":{"type":"text","text":"LINEAR","font":"Liberation Mono","fontSize":19,"color":"black","align":"right","baseline":"alphabetic"},
"encoding":{"x":{"datum":2005.355,"type":"quantitative","axis":null},"y":{"datum":3.85,"type":"quantitative","axis":null}}}
]},
{"spacing":68,"bounds":"flush",
"vconcat":[
{"width":697,"height":184,
"resolve":{"axis":{"x":"independent","y":"independent"}},
"layer":[
{"data":{"values":[{}]},"mark":{"type":"rect","color":"#e3e3e3"},
"encoding":{"x":{"datum":2000.55,"type":"quantitative","scale":{"domain":[2000.55,2005.5],"nice":false,"zero":false},"axis":{"orient":"bottom","values":[2001,2002,2003,2004,2005],"format":"d","tickSize":-12,"labelPadding":23,"title":null}},"x2":{"datum":2005.5},
"y":{"datum":-0.71,"type":"quantitative","scale":{"domain":[-4,4],"nice":false,"zero":false},"axis":{"orient":"left","values":[-2,0,2],"tickSize":-12,"labelPadding":26,"title":"O−C [arcsec]","titlePadding":18}},"y2":{"datum":0.71}}},
{"data":{"values":[{}]},"mark":{"type":"rule","color":"black","strokeDash":[2,3],"strokeWidth":1.3},
"encoding":{"x":{"datum":2000.55,"type":"quantitative","axis":{"orient":"bottom","values":[2000.6,2000.8,2001.2,2001.4,2001.6,2001.8,2002.2,2002.4,2002.6,2002.8,2003.2,2003.4,2003.6,2003.8,2004.2,2004.4,2004.6,2004.8,2005.2,2005.4],"tickSize":-6,"labels":false,"title":null}},"x2":{"datum":2005.5},
"y":{"datum":0,"type":"quantitative","axis":{"orient":"left","values":[-3.5,-3,-2.5,-1.5,-1,-0.5,0.5,1,1.5,2.5,3,3.5],"tickSize":-6,"labels":false,"title":null}}}},
{"data":{"values":[{}]},"mark":{"type":"rule","color":"black","strokeDash":[2,3],"strokeWidth":1.3},
"encoding":{"x":{"datum":2002.33,"type":"quantitative","axis":null},"y":{"datum":-4,"type":"quantitative","axis":null},"y2":{"datum":4}}},
{"data":{"name":"m1"},"mark":{"type":"circle","color":"#ff00ff","size":70,"opacity":1},
"encoding":{"x":{"field":"t","type":"quantitative","axis":{"orient":"top","values":[2001,2002,2003,2004,2005],"format":"d","tickSize":-12,"labelPadding":19,"title":null}},
"y":{"field":"v","type":"quantitative","axis":{"orient":"right","values":[-2,0,2],"tickSize":-12,"labels":false,"title":null}}}},
{"data":{"name":"b1"},"mark":{"type":"point","shape":"circle","filled":false,"color":"#0000ff","size":50,"strokeWidth":1.4,"opacity":1},
"encoding":{"x":{"field":"t","type":"quantitative","axis":{"orient":"top","values":[2000.6,2000.8,2001.2,2001.4,2001.6,2001.8,2002.2,2002.4,2002.6,2002.8,2003.2,2003.4,2003.6,2003.8,2004.2,2004.4,2004.6,2004.8,2005.2,2005.4],"tickSize":-6,"labels":false,"title":null}},
"y":{"field":"v","type":"quantitative","axis":{"orient":"right","values":[-3.5,-3,-2.5,-1.5,-1,-0.5,0.5,1,1.5,2.5,3,3.5],"tickSize":-6,"labels":false,"title":null}}}},
{"data":{"values":[{}]},"mark":{"type":"text","text":"C/2000 SV","font":"Liberation Mono","fontSize":19,"color":"black","align":"left","baseline":"alphabetic"},
"encoding":{"x":{"datum":2003.016,"type":"quantitative","axis":null},"y":{"datum":-3.64,"type":"quantitative","axis":null}}},
{"data":{"values":[{}]},"mark":{"type":"text","text":"74","font":"Liberation Sans","fontWeight":"bold","fontSize":13,"color":"black","align":"left","baseline":"alphabetic"},
"encoding":{"x":{"datum":2003.777,"type":"quantitative","axis":null},"y":{"datum":-3.77,"type":"quantitative","axis":null}}},
{"data":{"values":[{}]},"mark":{"type":"text","text":"(NG-CO; weighted)","font":"Liberation Mono","fontSize":19,"color":"black","align":"right","baseline":"alphabetic"},
"encoding":{"x":{"datum":2005.355,"type":"quantitative","axis":null},"y":{"datum":-3.64,"type":"quantitative","axis":null}}}
]},
{"width":697,"height":184,
"resolve":{"axis":{"x":"independent","y":"independent"}},
"layer":[
{"data":{"values":[{}]},"mark":{"type":"rect","color":"#e3e3e3"},
"encoding":{"x":{"datum":2000.55,"type":"quantitative","scale":{"domain":[2000.55,2005.5],"nice":false,"zero":false},"axis":{"orient":"bottom","values":[2001,2002,2003,2004,2005],"format":"d","tickSize":-12,"labelPadding":23,"title":"D a t e [yr]","titleFont":"Liberation Mono","titleFontSize":18,"titlePadding":9}},"x2":{"datum":2005.5},
"y":{"datum":-0.82,"type":"quantitative","scale":{"domain":[-4,4],"nice":false,"zero":false},"axis":{"orient":"left","values":[-2,0,2],"tickSize":-12,"labelPadding":26,"title":"O−C [arcsec]","titlePadding":18}},"y2":{"datum":0.82}}},
{"data":{"values":[{}]},"mark":{"type":"rule","color":"black","strokeDash":[2,3],"strokeWidth":1.3},
"encoding":{"x":{"datum":2000.55,"type":"quantitative","axis":{"orient":"bottom","values":[2000.6,2000.8,2001.2,2001.4,2001.6,2001.8,2002.2,2002.4,2002.6,2002.8,2003.2,2003.4,2003.6,2003.8,2004.2,2004.4,2004.6,2004.8,2005.2,2005.4],"tickSize":-6,"labels":false,"title":null}},"x2":{"datum":2005.5},
"y":{"datum":0,"type":"quantitative","axis":{"orient":"left","values":[-3.5,-3,-2.5,-1.5,-1,-0.5,0.5,1,1.5,2.5,3,3.5],"tickSize":-6,"labels":false,"title":null}}}},
{"data":{"values":[{}]},"mark":{"type":"rule","color":"black","strokeDash":[2,3],"strokeWidth":1.3},
"encoding":{"x":{"datum":2002.33,"type":"quantitative","axis":null},"y":{"datum":-4,"type":"quantitative","axis":null},"y2":{"datum":4}}},
{"data":{"name":"m2"},"mark":{"type":"circle","color":"#ff00ff","size":70,"opacity":1},
"encoding":{"x":{"field":"t","type":"quantitative","axis":{"orient":"top","values":[2001,2002,2003,2004,2005],"format":"d","tickSize":-12,"labelPadding":19,"title":null}},
"y":{"field":"v","type":"quantitative","axis":{"orient":"right","values":[-2,0,2],"tickSize":-12,"labels":false,"title":null}}}},
{"data":{"name":"b2"},"mark":{"type":"point","shape":"circle","filled":false,"color":"#0000ff","size":50,"strokeWidth":1.4,"opacity":1},
"encoding":{"x":{"field":"t","type":"quantitative","axis":{"orient":"top","values":[2000.6,2000.8,2001.2,2001.4,2001.6,2001.8,2002.2,2002.4,2002.6,2002.8,2003.2,2003.4,2003.6,2003.8,2004.2,2004.4,2004.6,2004.8,2005.2,2005.4],"tickSize":-6,"labels":false,"title":null}},
"y":{"field":"v","type":"quantitative","axis":{"orient":"right","values":[-3.5,-3,-2.5,-1.5,-1,-0.5,0.5,1,1.5,2.5,3,3.5],"tickSize":-6,"labels":false,"title":null}}}},
{"data":{"values":[{}]},"mark":{"type":"text","text":"C/2000 SV","font":"Liberation Mono","fontSize":20,"color":"black","align":"left","baseline":"alphabetic"},
"encoding":{"x":{"datum":2002.505,"type":"quantitative","axis":null},"y":{"datum":-3.79,"type":"quantitative","axis":null}}},
{"data":{"values":[{}]},"mark":{"type":"text","text":"74","font":"Liberation Sans","fontWeight":"bold","fontSize":13,"color":"black","align":"left","baseline":"alphabetic"},
"encoding":{"x":{"datum":2003.293,"type":"quantitative","axis":null},"y":{"datum":-3.94,"type":"quantitative","axis":null}}},
{"data":{"values":[{}]},"mark":{"type":"text","text":"(NG Nakano Yab NK1258)","font":"Liberation Mono","fontSize":20,"color":"black","align":"right","baseline":"alphabetic"},
"encoding":{"x":{"datum":2005.355,"type":"quantitative","axis":null},"y":{"datum":-3.79,"type":"quantitative","axis":null}}}
]}
]}
]
}
